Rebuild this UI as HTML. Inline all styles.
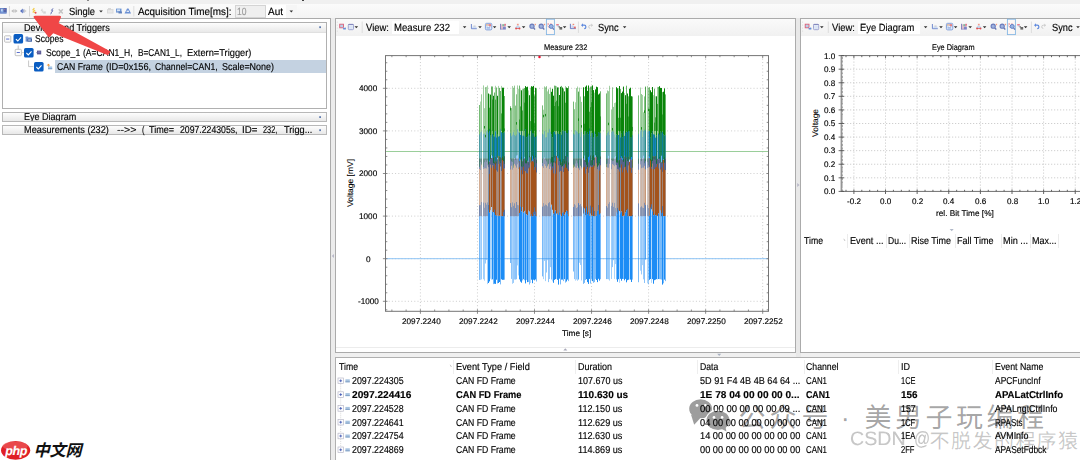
<!DOCTYPE html><html><head><meta charset="utf-8"><title>Scope</title><style>
html,body{margin:0;padding:0}
body{width:1080px;height:460px;overflow:hidden;position:relative;background:#f0f0f0;font-family:"Liberation Sans",sans-serif;text-rendering:geometricPrecision}
.a{position:absolute;box-sizing:border-box}
.t{position:absolute;white-space:nowrap;transform-origin:0 50%;display:inline-block;-webkit-text-stroke:0.15px}
.rot{position:absolute;white-space:nowrap;font-size:8.2px;line-height:10px;color:#000;transform-origin:0 0;-webkit-text-stroke:0.08px}
svg{position:absolute;left:0;top:0}
</style></head><body>
<div class="a" style="left:0;top:0;width:1080px;height:4px;background:#f0f0f0"></div>
<div class="a" style="left:0;top:3.6px;width:1080px;height:15px;background:linear-gradient(#fbfbfb,#f3f3f3)"></div>
<div class="a" style="left:302px;top:0;width:2px;height:1px;background:#444"></div>
<div class="a" style="left:87px;top:0;width:2px;height:1px;background:#888"></div>
<div class="a" style="left:234.5px;top:4.6px;width:31px;height:13.4px;background:#efefef;border:1px solid #d4d4d4"></div>
<div class="a" style="left:266px;top:4.6px;width:20px;height:13.4px;background:#fff"></div>
<div class="a" style="left:286px;top:4.6px;width:11px;height:13.4px;background:#f6f6f6"></div>
<div class="a" style="left:-1px;top:18px;width:332px;height:450px;background:#fff;border:1px solid #ababab"></div>
<div class="a" style="left:2px;top:21.8px;width:325.2px;height:87px;background:#fff;border:1px solid #b0b0b0"></div>
<div class="a" style="left:3px;top:22.8px;width:323.2px;height:10.4px;background:linear-gradient(#fdfdfd,#e9e9e9);border-bottom:1px solid #e0e0e0"></div>
<div class="a" style="left:55px;top:59.8px;width:271.4px;height:13.5px;background:#c4d2e1"></div>
<div class="a" style="left:2px;top:112.2px;width:325.2px;height:9.4px;background:linear-gradient(#fdfdfd,#e8e8e8);border:1px solid #b8b8b8"></div>
<div class="a" style="left:20px;top:105px;width:80px;height:16px;overflow:hidden"><span class="t" id="lp_eye" style="left:4.3px;top:6px;font-size:10px;line-height:13px;transform:scaleX(0.9029)">Eye Diagram</span></div>
<div class="a" style="left:2px;top:125.2px;width:325.2px;height:9.6px;background:linear-gradient(#fdfdfd,#e8e8e8);border:1px solid #b8b8b8"></div>
<div class="a" style="left:331px;top:18px;width:5px;height:442px;background:#ececec"></div>
<div class="a" style="left:796px;top:18px;width:5px;height:340px;background:#e8e8e8"></div>
<div class="a" style="left:335px;top:18px;width:461px;height:334.8px;background:#fff;border:1px solid #ababab"></div>
<div class="a" style="left:336px;top:19px;width:459px;height:16.6px;background:linear-gradient(#fafafa,#f1f1f1)"></div>
<div class="a" style="left:336px;top:346.6px;width:459px;height:1px;background:#ececec"></div>
<div class="a" style="left:392px;top:20.6px;width:67px;height:13.6px;background:#fff"></div>
<div class="a" style="left:800px;top:18px;width:290px;height:334.8px;background:#fff;border:1px solid #ababab"></div>
<div class="a" style="left:801px;top:19px;width:280px;height:16.6px;background:linear-gradient(#fafafa,#f1f1f1)"></div>
<div class="a" style="left:857.6px;top:20.6px;width:62px;height:13.6px;background:#fff"></div>
<div class="a" style="left:847.0px;top:233.5px;width:1px;height:14px;background:#ececec"></div>
<div class="a" style="left:886.4px;top:233.5px;width:1px;height:14px;background:#ececec"></div>
<div class="a" style="left:909.0px;top:233.5px;width:1px;height:14px;background:#ececec"></div>
<div class="a" style="left:954.9px;top:233.5px;width:1px;height:14px;background:#ececec"></div>
<div class="a" style="left:1001.2px;top:233.5px;width:1px;height:14px;background:#ececec"></div>
<div class="a" style="left:1029.5px;top:233.5px;width:1px;height:14px;background:#ececec"></div>
<div class="a" style="left:1058.2px;top:233.5px;width:1px;height:14px;background:#ececec"></div>
<div class="a" style="left:335px;top:356.8px;width:760px;height:110px;background:#fff;border:1px solid #b0b0b0"></div>
<div class="a" style="left:453.1px;top:360px;width:1px;height:14px;background:#eeeeee"></div>
<div class="a" style="left:575.2px;top:360px;width:1px;height:14px;background:#eeeeee"></div>
<div class="a" style="left:696.9px;top:360px;width:1px;height:14px;background:#eeeeee"></div>
<div class="a" style="left:803.5px;top:360px;width:1px;height:14px;background:#eeeeee"></div>
<div class="a" style="left:897.8px;top:360px;width:1px;height:14px;background:#eeeeee"></div>
<div class="a" style="left:992.1px;top:360px;width:1px;height:14px;background:#eeeeee"></div>
<span class="t" id="tb_single" style="left:69.00px;top:6px;font-size:10.4px;line-height:13.52px;font-weight:normal;color:#000;transform:scaleX(0.8999);">Single</span>
<span class="t" id="tb_acq" style="left:137.50px;top:6px;font-size:10.4px;line-height:13.52px;font-weight:normal;color:#000;transform:scaleX(0.9524);">Acquisition Time[ms]:</span>
<span class="t" id="tb_10" style="left:237.00px;top:6px;font-size:10.4px;line-height:13.52px;font-weight:normal;color:#9a9a9a;transform:scaleX(0.8216);">10</span>
<span class="t" id="tb_aut" style="left:268.00px;top:6px;font-size:10.4px;line-height:13.52px;font-weight:normal;color:#000;transform:scaleX(0.9610);">Aut</span>
<span class="t" id="lp_dev" style="left:24.30px;top:22px;font-size:10.0px;line-height:13.0px;font-weight:normal;color:#000;transform:scaleX(0.9123);">Devices and Triggers</span>
<span class="t" id="lp_scopes" style="left:35.10px;top:33px;font-size:10.0px;line-height:13.0px;font-weight:normal;color:#000;transform:scaleX(0.8543);">Scopes</span>
<span class="t" id="lp_s1_0" style="left:45.80px;top:47px;font-size:10.0px;line-height:13.0px;font-weight:normal;color:#000;transform:scaleX(0.8662);">Scope_1</span>
<span class="t" id="lp_s1_1" style="left:83.30px;top:47px;font-size:10.0px;line-height:13.0px;font-weight:normal;color:#000;transform:scaleX(0.8540);">(A=CAN1_H,</span>
<span class="t" id="lp_s1_2" style="left:137.80px;top:47px;font-size:10.0px;line-height:13.0px;font-weight:normal;color:#000;transform:scaleX(0.8287);">B=CAN1_L,</span>
<span class="t" id="lp_s1_3" style="left:186.70px;top:47px;font-size:10.0px;line-height:13.0px;font-weight:normal;color:#000;transform:scaleX(0.9283);">Extern=Trigger)</span>
<span class="t" id="lp_cf_0" style="left:56.50px;top:61px;font-size:10.0px;line-height:13.0px;font-weight:normal;color:#000;transform:scaleX(0.8656);">CAN Frame</span>
<span class="t" id="lp_cf_1" style="left:105.60px;top:61px;font-size:10.0px;line-height:13.0px;font-weight:normal;color:#000;transform:scaleX(0.9166);">(ID=0x156,</span>
<span class="t" id="lp_cf_2" style="left:155.10px;top:61px;font-size:10.0px;line-height:13.0px;font-weight:normal;color:#000;transform:scaleX(0.8643);">Channel=CAN1,</span>
<span class="t" id="lp_cf_3" style="left:221.80px;top:61px;font-size:10.0px;line-height:13.0px;font-weight:normal;color:#000;transform:scaleX(0.8951);">Scale=None)</span>
<span class="t" id="lp_m_0" style="left:24.30px;top:124px;font-size:10.0px;line-height:13.0px;font-weight:normal;color:#000;transform:scaleX(0.9202);">Measurements (232)</span>
<span class="t" id="lp_m_1" style="left:117.00px;top:124px;font-size:10.0px;line-height:13.0px;font-weight:normal;color:#000;transform:scaleX(1.0685);">--&gt;&gt;</span>
<span class="t" id="lp_m_2" style="left:141.50px;top:124px;font-size:10.0px;line-height:13.0px;font-weight:normal;color:#000;transform:scaleX(0.7477);">(</span>
<span class="t" id="lp_m_3" style="left:149.40px;top:124px;font-size:10.0px;line-height:13.0px;font-weight:normal;color:#000;transform:scaleX(0.9060);">Time=</span>
<span class="t" id="lp_m_4" style="left:179.90px;top:124px;font-size:10.0px;line-height:13.0px;font-weight:normal;color:#000;transform:scaleX(0.8689);">2097.224305s,</span>
<span class="t" id="lp_m_5" style="left:242.20px;top:124px;font-size:10.0px;line-height:13.0px;font-weight:normal;color:#000;transform:scaleX(0.9720);">ID=</span>
<span class="t" id="lp_m_6" style="left:262.90px;top:124px;font-size:10.0px;line-height:13.0px;font-weight:normal;color:#000;transform:scaleX(0.7345);">232,</span>
<span class="t" id="lp_m_7" style="left:283.60px;top:124px;font-size:10.0px;line-height:13.0px;font-weight:normal;color:#000;transform:scaleX(0.9203);">Trigg...</span>
<span class="t" id="ct_view" style="left:366.00px;top:22px;font-size:10.4px;line-height:13.52px;font-weight:normal;color:#000;transform:scaleX(0.9115);">View:</span>
<span class="t" id="ct_meas" style="left:394.00px;top:22px;font-size:10.4px;line-height:13.52px;font-weight:normal;color:#000;transform:scaleX(0.9232);">Measure 232</span>
<span class="t" id="ct_sync" style="left:598.30px;top:22px;font-size:10.4px;line-height:13.52px;font-weight:normal;color:#000;transform:scaleX(0.8914);">Sync</span>
<span class="t" id="rt_view" style="left:831.70px;top:22px;font-size:10.4px;line-height:13.52px;font-weight:normal;color:#000;transform:scaleX(0.9115);">View:</span>
<span class="t" id="rt_eye" style="left:860.00px;top:22px;font-size:10.4px;line-height:13.52px;font-weight:normal;color:#000;transform:scaleX(0.9024);">Eye Diagram</span>
<span class="t" id="rt_sync" style="left:1051.70px;top:22px;font-size:10.4px;line-height:13.52px;font-weight:normal;color:#000;transform:scaleX(0.8871);">Sync</span>
<span class="t" id="cc_title" style="left:544.40px;top:43px;font-size:8.2px;line-height:10.66px;font-weight:normal;color:#000;transform:scaleX(0.9059);">Measure 232</span>
<span class="t" id="cc_y4000" style="left:359.40px;top:84px;font-size:8.2px;line-height:10.66px;font-weight:normal;color:#000;transform:scaleX(0.9990);">4000</span>
<span class="t" id="cc_y3000" style="left:359.40px;top:127px;font-size:8.2px;line-height:10.66px;font-weight:normal;color:#000;transform:scaleX(0.9990);">3000</span>
<span class="t" id="cc_y2000" style="left:359.40px;top:169px;font-size:8.2px;line-height:10.66px;font-weight:normal;color:#000;transform:scaleX(0.9990);">2000</span>
<span class="t" id="cc_y1000" style="left:359.40px;top:212px;font-size:8.2px;line-height:10.66px;font-weight:normal;color:#000;transform:scaleX(0.9990);">1000</span>
<span class="t" id="cc_y0" style="left:366.20px;top:255px;font-size:8.2px;line-height:10.66px;font-weight:normal;color:#000;transform:scaleX(1.0082);">0</span>
<span class="t" id="cc_y-1000" style="left:358.10px;top:297px;font-size:8.2px;line-height:10.66px;font-weight:normal;color:#000;transform:scaleX(0.9927);">-1000</span>
<span class="t" id="cc_x0" style="left:401.60px;top:317px;font-size:8.2px;line-height:10.66px;font-weight:normal;color:#000;transform:scaleX(0.9999);">2097.2240</span>
<span class="t" id="cc_x1" style="left:458.65px;top:317px;font-size:8.2px;line-height:10.66px;font-weight:normal;color:#000;transform:scaleX(0.9999);">2097.2242</span>
<span class="t" id="cc_x2" style="left:515.70px;top:317px;font-size:8.2px;line-height:10.66px;font-weight:normal;color:#000;transform:scaleX(0.9999);">2097.2244</span>
<span class="t" id="cc_x3" style="left:572.75px;top:317px;font-size:8.2px;line-height:10.66px;font-weight:normal;color:#000;transform:scaleX(0.9999);">2097.2246</span>
<span class="t" id="cc_x4" style="left:629.80px;top:317px;font-size:8.2px;line-height:10.66px;font-weight:normal;color:#000;transform:scaleX(0.9999);">2097.2248</span>
<span class="t" id="cc_x5" style="left:686.85px;top:317px;font-size:8.2px;line-height:10.66px;font-weight:normal;color:#000;transform:scaleX(0.9999);">2097.2250</span>
<span class="t" id="cc_x6" style="left:743.90px;top:317px;font-size:8.2px;line-height:10.66px;font-weight:normal;color:#000;transform:scaleX(0.9999);">2097.2252</span>
<span class="t" id="cc_xt" style="left:562.30px;top:329px;font-size:8.2px;line-height:10.66px;font-weight:normal;color:#000;transform:scaleX(1.0134);">Time [s]</span>
<span class="t" id="rc_title" style="left:931.50px;top:43px;font-size:8.2px;line-height:10.66px;font-weight:normal;color:#000;transform:scaleX(0.9001);">Eye Diagram</span>
<span class="t" id="rc_y0" style="left:823.70px;top:52px;font-size:8.2px;line-height:10.66px;font-weight:normal;color:#000;transform:scaleX(0.9920);">1.0</span>
<span class="t" id="rc_y1" style="left:823.70px;top:65px;font-size:8.2px;line-height:10.66px;font-weight:normal;color:#000;transform:scaleX(0.9920);">0.9</span>
<span class="t" id="rc_y2" style="left:823.70px;top:79px;font-size:8.2px;line-height:10.66px;font-weight:normal;color:#000;transform:scaleX(0.9920);">0.8</span>
<span class="t" id="rc_y3" style="left:823.70px;top:92px;font-size:8.2px;line-height:10.66px;font-weight:normal;color:#000;transform:scaleX(0.9920);">0.7</span>
<span class="t" id="rc_y4" style="left:823.70px;top:106px;font-size:8.2px;line-height:10.66px;font-weight:normal;color:#000;transform:scaleX(0.9920);">0.6</span>
<span class="t" id="rc_y5" style="left:823.70px;top:119px;font-size:8.2px;line-height:10.66px;font-weight:normal;color:#000;transform:scaleX(0.9920);">0.5</span>
<span class="t" id="rc_y6" style="left:823.70px;top:133px;font-size:8.2px;line-height:10.66px;font-weight:normal;color:#000;transform:scaleX(0.9920);">0.4</span>
<span class="t" id="rc_y7" style="left:823.70px;top:146px;font-size:8.2px;line-height:10.66px;font-weight:normal;color:#000;transform:scaleX(0.9920);">0.3</span>
<span class="t" id="rc_y8" style="left:823.70px;top:160px;font-size:8.2px;line-height:10.66px;font-weight:normal;color:#000;transform:scaleX(0.9920);">0.2</span>
<span class="t" id="rc_y9" style="left:823.70px;top:174px;font-size:8.2px;line-height:10.66px;font-weight:normal;color:#000;transform:scaleX(0.9920);">0.1</span>
<span class="t" id="rc_y10" style="left:823.70px;top:187px;font-size:8.2px;line-height:10.66px;font-weight:normal;color:#000;transform:scaleX(0.9920);">0.0</span>
<span class="t" id="rc_x0" style="left:847.30px;top:197px;font-size:8.2px;line-height:10.66px;font-weight:normal;color:#000;transform:scaleX(0.9922);">-0.2</span>
<span class="t" id="rc_x1" style="left:880.25px;top:197px;font-size:8.2px;line-height:10.66px;font-weight:normal;color:#000;transform:scaleX(0.9920);">0.0</span>
<span class="t" id="rc_x2" style="left:911.85px;top:197px;font-size:8.2px;line-height:10.66px;font-weight:normal;color:#000;transform:scaleX(0.9920);">0.2</span>
<span class="t" id="rc_x3" style="left:943.45px;top:197px;font-size:8.2px;line-height:10.66px;font-weight:normal;color:#000;transform:scaleX(0.9920);">0.4</span>
<span class="t" id="rc_x4" style="left:975.05px;top:197px;font-size:8.2px;line-height:10.66px;font-weight:normal;color:#000;transform:scaleX(0.9920);">0.6</span>
<span class="t" id="rc_x5" style="left:1006.65px;top:197px;font-size:8.2px;line-height:10.66px;font-weight:normal;color:#000;transform:scaleX(0.9920);">0.8</span>
<span class="t" id="rc_x6" style="left:1038.25px;top:197px;font-size:8.2px;line-height:10.66px;font-weight:normal;color:#000;transform:scaleX(0.9920);">1.0</span>
<span class="t" id="rc_x7" style="left:1069.85px;top:197px;font-size:8.2px;line-height:10.66px;font-weight:normal;color:#000;transform:scaleX(0.9920);">1.2</span>
<span class="t" id="rc_xt" style="left:936.20px;top:209px;font-size:8.2px;line-height:10.66px;font-weight:normal;color:#000;transform:scaleX(1.0082);">rel. Bit Time [%]</span>
<span class="t" id="rh_time" style="left:804.00px;top:235px;font-size:10.0px;line-height:13.0px;font-weight:normal;color:#000;transform:scaleX(0.8692);">Time</span>
<span class="t" id="rh_event" style="left:849.50px;top:235px;font-size:10.0px;line-height:13.0px;font-weight:normal;color:#000;transform:scaleX(0.9131);">Event ...</span>
<span class="t" id="rh_du" style="left:888.20px;top:235px;font-size:10.0px;line-height:13.0px;font-weight:normal;color:#000;transform:scaleX(0.8521);">Du...</span>
<span class="t" id="rh_rise" style="left:911.00px;top:235px;font-size:10.0px;line-height:13.0px;font-weight:normal;color:#000;transform:scaleX(0.8998);">Rise Time</span>
<span class="t" id="rh_fall" style="left:957.00px;top:235px;font-size:10.0px;line-height:13.0px;font-weight:normal;color:#000;transform:scaleX(0.8998);">Fall Time</span>
<span class="t" id="rh_min" style="left:1003.20px;top:235px;font-size:10.0px;line-height:13.0px;font-weight:normal;color:#000;transform:scaleX(0.9180);">Min ...</span>
<span class="t" id="rh_max" style="left:1031.70px;top:235px;font-size:10.0px;line-height:13.0px;font-weight:normal;color:#000;transform:scaleX(0.8996);">Max...</span>
<span class="t" id="bh_time" style="left:339.30px;top:361px;font-size:10.0px;line-height:13.0px;font-weight:normal;color:#000;transform:scaleX(0.8692);">Time</span>
<span class="t" id="bh_event" style="left:456.20px;top:361px;font-size:10.0px;line-height:13.0px;font-weight:normal;color:#000;transform:scaleX(0.9241);">Event Type / Field</span>
<span class="t" id="bh_dur" style="left:577.80px;top:361px;font-size:10.0px;line-height:13.0px;font-weight:normal;color:#000;transform:scaleX(0.8992);">Duration</span>
<span class="t" id="bh_data" style="left:699.70px;top:361px;font-size:10.0px;line-height:13.0px;font-weight:normal;color:#000;transform:scaleX(0.8663);">Data</span>
<span class="t" id="bh_chan" style="left:806.00px;top:361px;font-size:10.0px;line-height:13.0px;font-weight:normal;color:#000;transform:scaleX(0.8721);">Channel</span>
<span class="t" id="bh_id" style="left:900.50px;top:361px;font-size:10.0px;line-height:13.0px;font-weight:normal;color:#000;transform:scaleX(0.9000);">ID</span>
<span class="t" id="bh_name" style="left:994.50px;top:361px;font-size:10.0px;line-height:13.0px;font-weight:normal;color:#000;transform:scaleX(0.8813);">Event Name</span>
<span class="t" id="r0_t" style="left:352.20px;top:375px;font-size:10.0px;line-height:13.0px;font-weight:normal;color:#000;transform:scaleX(0.8835);">2097.224305</span>
<span class="t" id="r0_e" style="left:456.20px;top:375px;font-size:10.0px;line-height:13.0px;font-weight:normal;color:#000;transform:scaleX(0.8664);">CAN FD Frame</span>
<span class="t" id="r0_d" style="left:577.80px;top:375px;font-size:10.0px;line-height:13.0px;font-weight:normal;color:#000;transform:scaleX(0.8970);">107.670 us</span>
<span class="t" id="r0_x" style="left:699.70px;top:375px;font-size:10.0px;line-height:13.0px;font-weight:normal;color:#000;transform:scaleX(0.9112);">5D 91 F4 4B 4B 64 64 ...</span>
<span class="t" id="r0_c" style="left:806.00px;top:375px;font-size:10.0px;line-height:13.0px;font-weight:normal;color:#000;transform:scaleX(0.7869);">CAN1</span>
<span class="t" id="r0_i" style="left:900.50px;top:375px;font-size:10.0px;line-height:13.0px;font-weight:normal;color:#000;transform:scaleX(0.7454);">1CE</span>
<span class="t" id="r0_n" style="left:994.50px;top:375px;font-size:10.0px;line-height:13.0px;font-weight:normal;color:#000;transform:scaleX(0.8438);">APCFuncInf</span>
<span class="t" id="r1_t" style="left:352.20px;top:389px;font-size:10.0px;line-height:13.0px;font-weight:bold;color:#000;transform:scaleX(1.0170);">2097.224416</span>
<span class="t" id="r1_e" style="left:456.20px;top:389px;font-size:10.0px;line-height:13.0px;font-weight:bold;color:#000;transform:scaleX(0.9280);">CAN FD Frame</span>
<span class="t" id="r1_d" style="left:577.80px;top:389px;font-size:10.0px;line-height:13.0px;font-weight:bold;color:#000;transform:scaleX(1.0031);">110.630 us</span>
<span class="t" id="r1_x" style="left:699.70px;top:389px;font-size:10.0px;line-height:13.0px;font-weight:bold;color:#000;transform:scaleX(1.0110);">1E 78 04 00 00 00 0...</span>
<span class="t" id="r1_c" style="left:806.00px;top:389px;font-size:10.0px;line-height:13.0px;font-weight:bold;color:#000;transform:scaleX(0.8812);">CAN1</span>
<span class="t" id="r1_i" style="left:900.50px;top:389px;font-size:10.0px;line-height:13.0px;font-weight:bold;color:#000;transform:scaleX(0.9888);">156</span>
<span class="t" id="r1_n" style="left:994.50px;top:389px;font-size:10.0px;line-height:13.0px;font-weight:bold;color:#000;transform:scaleX(0.9588);">APALatCtrlInfo</span>
<span class="t" id="r2_t" style="left:352.20px;top:403px;font-size:10.0px;line-height:13.0px;font-weight:normal;color:#000;transform:scaleX(0.8835);">2097.224528</span>
<span class="t" id="r2_e" style="left:456.20px;top:403px;font-size:10.0px;line-height:13.0px;font-weight:normal;color:#000;transform:scaleX(0.8664);">CAN FD Frame</span>
<span class="t" id="r2_d" style="left:577.80px;top:403px;font-size:10.0px;line-height:13.0px;font-weight:normal;color:#000;transform:scaleX(0.9108);">112.150 us</span>
<span class="t" id="r2_x" style="left:699.70px;top:403px;font-size:10.0px;line-height:13.0px;font-weight:normal;color:#000;transform:scaleX(0.9493);">00 00 00 00 00 00 09 ...</span>
<span class="t" id="r2_c" style="left:806.00px;top:403px;font-size:10.0px;line-height:13.0px;font-weight:normal;color:#000;transform:scaleX(0.7869);">CAN1</span>
<span class="t" id="r2_i" style="left:900.50px;top:403px;font-size:10.0px;line-height:13.0px;font-weight:normal;color:#000;transform:scaleX(0.8869);">157</span>
<span class="t" id="r2_n" style="left:994.50px;top:403px;font-size:10.0px;line-height:13.0px;font-weight:normal;color:#000;transform:scaleX(0.8807);">APALngtCtrlInfo</span>
<span class="t" id="r3_t" style="left:352.20px;top:417px;font-size:10.0px;line-height:13.0px;font-weight:normal;color:#000;transform:scaleX(0.8835);">2097.224641</span>
<span class="t" id="r3_e" style="left:456.20px;top:417px;font-size:10.0px;line-height:13.0px;font-weight:normal;color:#000;transform:scaleX(0.8664);">CAN FD Frame</span>
<span class="t" id="r3_d" style="left:577.80px;top:417px;font-size:10.0px;line-height:13.0px;font-weight:normal;color:#000;transform:scaleX(0.9108);">112.629 us</span>
<span class="t" id="r3_x" style="left:699.70px;top:417px;font-size:10.0px;line-height:13.0px;font-weight:normal;color:#000;transform:scaleX(0.9250);">04 00 00 00 00 00 00 00</span>
<span class="t" id="r3_c" style="left:806.00px;top:417px;font-size:10.0px;line-height:13.0px;font-weight:normal;color:#000;transform:scaleX(0.7869);">CAN1</span>
<span class="t" id="r3_i" style="left:900.50px;top:417px;font-size:10.0px;line-height:13.0px;font-weight:normal;color:#000;transform:scaleX(0.7511);">1CF</span>
<span class="t" id="r3_n" style="left:994.50px;top:417px;font-size:10.0px;line-height:13.0px;font-weight:normal;color:#000;transform:scaleX(0.8022);">RPASts</span>
<span class="t" id="r4_t" style="left:352.20px;top:430px;font-size:10.0px;line-height:13.0px;font-weight:normal;color:#000;transform:scaleX(0.8835);">2097.224754</span>
<span class="t" id="r4_e" style="left:456.20px;top:430px;font-size:10.0px;line-height:13.0px;font-weight:normal;color:#000;transform:scaleX(0.8664);">CAN FD Frame</span>
<span class="t" id="r4_d" style="left:577.80px;top:430px;font-size:10.0px;line-height:13.0px;font-weight:normal;color:#000;transform:scaleX(0.9108);">112.630 us</span>
<span class="t" id="r4_x" style="left:699.70px;top:430px;font-size:10.0px;line-height:13.0px;font-weight:normal;color:#000;transform:scaleX(0.9250);">14 00 00 00 00 00 00 00</span>
<span class="t" id="r4_c" style="left:806.00px;top:430px;font-size:10.0px;line-height:13.0px;font-weight:normal;color:#000;transform:scaleX(0.7869);">CAN1</span>
<span class="t" id="r4_i" style="left:900.50px;top:430px;font-size:10.0px;line-height:13.0px;font-weight:normal;color:#000;transform:scaleX(0.7511);">1EA</span>
<span class="t" id="r4_n" style="left:994.50px;top:430px;font-size:10.0px;line-height:13.0px;font-weight:normal;color:#000;transform:scaleX(0.8907);">AVMInfo</span>
<span class="t" id="r5_t" style="left:352.20px;top:444px;font-size:10.0px;line-height:13.0px;font-weight:normal;color:#000;transform:scaleX(0.8835);">2097.224869</span>
<span class="t" id="r5_e" style="left:456.20px;top:444px;font-size:10.0px;line-height:13.0px;font-weight:normal;color:#000;transform:scaleX(0.8664);">CAN FD Frame</span>
<span class="t" id="r5_d" style="left:577.80px;top:444px;font-size:10.0px;line-height:13.0px;font-weight:normal;color:#000;transform:scaleX(0.9108);">114.869 us</span>
<span class="t" id="r5_x" style="left:699.70px;top:444px;font-size:10.0px;line-height:13.0px;font-weight:normal;color:#000;transform:scaleX(0.9250);">00 00 00 00 00 00 00 00</span>
<span class="t" id="r5_c" style="left:806.00px;top:444px;font-size:10.0px;line-height:13.0px;font-weight:normal;color:#000;transform:scaleX(0.7869);">CAN1</span>
<span class="t" id="r5_i" style="left:900.50px;top:444px;font-size:10.0px;line-height:13.0px;font-weight:normal;color:#000;transform:scaleX(0.7592);">2FF</span>
<span class="t" id="r5_n" style="left:994.50px;top:444px;font-size:10.0px;line-height:13.0px;font-weight:normal;color:#000;transform:scaleX(0.8372);">APASetFdbck</span>
<span class="rot" id="rot1" style="left:346.2px;top:207.4px;transform:rotate(-90deg) scaleX(1.0340)">Voltage [mV]</span>
<span class="rot" id="rot2" style="left:811px;top:137.4px;transform:rotate(-90deg) scaleX(1.0246)">Voltage</span>
<svg width="1080" height="460" viewBox="0 0 1080 460">
<g opacity="0.8">
<rect x="0.00" y="8.00" width="6.60" height="5.60" fill="#3a5cb4" fill-opacity="0.95"/>
<rect x="0.80" y="8.80" width="2.40" height="3.40" fill="#78a8e6" fill-opacity="0.9"/>
<rect x="3.80" y="8.20" width="2.80" height="4.20" fill="#2a3f92" fill-opacity="0.9"/>
<rect x="1.20" y="9.40" width="1.20" height="1.40" fill="#e8f0fc" fill-opacity="0.9"/>
<rect x="4.20" y="9.00" width="1.00" height="1.00" fill="#c05070" fill-opacity="0.8"/>
<rect x="0.40" y="12.40" width="5.80" height="1.00" fill="#5a86d4" fill-opacity="0.9"/>
<path d="M9.40 6.00L9.40 16.50" stroke="#d0d0d0" stroke-width="1" fill="none" />
<path d="M11.2 11l2.3-1.7v3.4zM17.6 11l-2.3-1.7v3.4z" fill="#b0b0b0"/>
<rect x="13.30" y="9.70" width="2.20" height="2.60" fill="#b4b4b4"/>
<rect x="13.80" y="10.30" width="1.20" height="1.40" fill="#d8d8d8"/>
<path d="M20 11l2.9-2.5v5z" fill="#3050b4"/><path d="M26.6 11l-2.5-1.9v3.8z" fill="#c4c4c4"/>
<rect x="22.70" y="9.40" width="1.50" height="3.20" fill="#8a9cc8"/>
<path d="M29.50 6.00L29.50 16.50" stroke="#d0d0d0" stroke-width="1" fill="none" />
<path d="M34.3 8l-1.3 1.8 1.6 0.6-1.4 1.6 1.8 0.5" stroke="#f0c020" stroke-width="1.2" fill="none"/><circle cx="35.6" cy="12.7" r="0.95" fill="#e02828"/>
<path d="M42.4 8.8l-1 1.6 1.4 0.6-0.8 1.4" stroke="#cfcfcf" stroke-width="1.1" fill="none"/>
<rect x="43.20" y="11.40" width="2.60" height="2.20" fill="#cacaca"/>
<path d="M53 8.4l-1.5 1.9 1.3 0.5-1.6 1.7 0.6 0.3-1.4 1.2" stroke="#2f3f9c" stroke-width="1" fill="none"/>
<path d="M58.8 9.2l4 4.2M62.8 9.2l-4 4.2" stroke="#b8b8b8" stroke-width="1.5"/>
<path d="M99.2 10.5h3.6l-1.8 2z" fill="#000"/>
<rect x="107.00" y="9.00" width="6.50" height="4.50" fill="#d4d4d4"/>
<rect x="108.00" y="8.20" width="3.00" height="1.20" fill="#c8c8c8"/>
<rect x="108.00" y="10.20" width="4.50" height="2.40" fill="#e6e6e6"/>
<rect x="116.00" y="8.60" width="5.50" height="4.00" fill="#3f74c8" fill-opacity="0.9"/>
<rect x="117.00" y="9.40" width="3.00" height="1.80" fill="#cfe0f5"/>
<rect x="118.50" y="11.50" width="3.50" height="2.00" fill="#2a55a5" fill-opacity="0.85"/>
<path d="M124.5 13.6l2.6-5.2 1.4 0 2.6 5.2z" fill="#4a78cc"/>
<rect x="126.60" y="10.60" width="2.40" height="1.40" fill="#dfe8f8"/>
<path d="M133.80 6.00L133.80 16.50" stroke="#d8d8d8" stroke-width="1" fill="none" />
<path d="M289.5 10.5h3.6l-1.8 2z" fill="#000"/>
<path d="M337.3 21.6V33" stroke="#d4d4d4" stroke-width="1" stroke-dasharray="1 2"/>
<rect x="339.7" y="24.2" width="3.8" height="3.6" fill="#a8c8e8" stroke="#d83a58" stroke-width="0.9"/>
<rect x="343.10" y="27.50" width="2.80" height="2.10" fill="#3a70d0" fill-opacity="0.95" rx="0.6"/>
<rect x="343.70" y="27.00" width="1.20" height="1.00" fill="#dfe8f8" fill-opacity="0.8"/>
<rect x="348.3" y="24.3" width="5.2" height="5.4" rx="0.9" fill="#e4ebf8" stroke="#8088c4" stroke-width="0.9"/>
<rect x="348.30" y="24.10" width="5.20" height="1.00" fill="#6468ac" fill-opacity="0.9" rx="0.4"/>
<rect x="349.20" y="25.70" width="3.40" height="3.20" fill="#d3e0f4" fill-opacity="0.9"/>
<path d="M354.5 26.3h3.6l-1.8 2z" fill="#000"/>
<path d="M362.20 21.50L362.20 33.00" stroke="#d8d8d8" stroke-width="1" fill="none" />
<path d="M462.8 26.3h3.6l-1.8 2z" fill="#000"/>
<path d="M471.4 24.0v4.7h5.4" stroke="#3f62c0" stroke-width="0.9" fill="none"/>
<rect x="472.30" y="26.60" width="4.20" height="1.50" fill="#c4d8f4"/>
<rect x="473.40" y="25.60" width="2.20" height="1.00" fill="#a8a8b0" fill-opacity="0.8"/>
<path d="M478.2 26.3h3.6l-1.8 2z" fill="#000"/>
<rect x="485.4" y="23.3" width="6.4" height="6.6" rx="1.2" fill="#dbe6f8" stroke="#5a80d0" stroke-width="0.9"/>
<rect x="486.00" y="24.10" width="1.80" height="1.60" fill="#d0a070" fill-opacity="0.9"/>
<rect x="488.40" y="24.10" width="2.60" height="2.20" fill="#e05050" fill-opacity="0.85"/>
<rect x="486.60" y="26.50" width="3.40" height="2.20" fill="#7aa0e0" fill-opacity="0.8"/>
<rect x="487.60" y="25.90" width="1.40" height="1.20" fill="#fff" fill-opacity="0.8"/>
<path d="M492.8 26.3h3.6l-1.8 2z" fill="#000"/>
<rect x="500.20" y="23.80" width="0.90" height="5.60" fill="#4a4aa0"/>
<rect x="501.10" y="24.40" width="4.60" height="4.80" fill="#d4a6b8" fill-opacity="0.9"/>
<rect x="502.40" y="24.20" width="2.00" height="1.80" fill="#5cb088"/>
<rect x="504.40" y="23.80" width="1.40" height="1.80" fill="#e04060"/>
<rect x="503.00" y="26.80" width="2.80" height="2.40" fill="#4a62c0" fill-opacity="0.85"/>
<rect x="500.20" y="28.80" width="5.60" height="0.70" fill="#5a5ab0" fill-opacity="0.8"/>
<path d="M507.4 26.3h3.6l-1.8 2z" fill="#000"/>
<rect x="516.90" y="23.80" width="1.80" height="1.70" fill="#f08070"/>
<path d="M516.6 25.8h2.4l1.6 2.2h-5.6z" fill="#b4d2f2"/>
<rect x="515.80" y="28.10" width="4.00" height="0.80" fill="#d83030"/>
<circle cx="516.1" cy="28.5" r="0.95" fill="#d82828"/><circle cx="519.5" cy="28.5" r="0.95" fill="#d82828"/>
<path d="M521.8 26.3h3.6l-1.8 2z" fill="#000"/>
<circle cx="532.0" cy="26.2" r="2.1" fill="#8aa4dc" stroke="#4a5fae" stroke-width="1.1"/>
<path d="M533.6 28.0l1.5 1.5" stroke="#3f55a0" stroke-width="1.2"/>
<rect x="534.70" y="23.80" width="1.20" height="1.40" fill="#f08060"/>
<circle cx="541.2" cy="26.2" r="2.1" fill="#8aa4dc" stroke="#4a5fae" stroke-width="1.1"/>
<path d="M542.8 28.0l1.5 1.5" stroke="#3f55a0" stroke-width="1.2"/>
<rect x="543.90" y="23.80" width="1.20" height="1.40" fill="#f08060"/>
<rect x="546.4" y="19.2" width="8" height="15.4" fill="#fdf8f6" stroke="#6aa8e0" stroke-width="0.9"/>
<path d="M547.4 24.0l1.6 0M547.6 26.0l1.2 1.2M550.6 23.6l1.2 0.8" stroke="#e04858" stroke-width="0.9"/>
<circle cx="551.2" cy="26.4" r="2" fill="#7fa6e0" stroke="#3f62b8" stroke-width="1"/>
<path d="M552.6 28.0l1.4 1.6" stroke="#3f55a0" stroke-width="1.2"/>
<rect x="556.20" y="24.00" width="2.60" height="1.50" fill="#e86070"/>
<rect x="556.80" y="25.50" width="2.00" height="0.90" fill="#7090d0" fill-opacity="0.8"/>
<rect x="558.40" y="26.00" width="1.60" height="1.60" fill="#777"/>
<rect x="559.40" y="27.00" width="2.80" height="2.60" fill="#333" fill-opacity="0.9"/>
<path d="M562.8 26.3h3.6l-1.8 2z" fill="#000"/>
<path d="M570.4 23.8v4.8h5.4" stroke="#3a50b0" stroke-width="0.9" fill="none"/>
<rect x="572.60" y="23.80" width="1.60" height="1.20" fill="#f07050"/>
<rect x="571.40" y="25.40" width="2.40" height="2.80" fill="#b8c8f0" fill-opacity="0.9"/>
<rect x="573.80" y="26.60" width="2.00" height="1.80" fill="#e04848"/>
<path d="M578.40 21.50L578.40 33.00" stroke="#d8d8d8" stroke-width="1" fill="none" />
<path d="M582.2 25.2h2a1.7 1.7 0 0 1 0 3.4" stroke="#3a6fd8" stroke-width="1.2" fill="none"/><path d="M581.0 25.2l2-1.9v3.8z" fill="#3a6fd8"/>
<path d="M591.9 25.2h-1.6a1.6 1.6 0 0 0 0 3.2" stroke="#c0c0c0" stroke-width="1" fill="none"/><path d="M593.1 25.2l-1.8-1.7v3.4z" fill="#c0c0c0"/>
<path d="M622.8 26.3h3.6l-1.8 2z" fill="#000"/>
<path d="M802.6 21.6V33" stroke="#d4d4d4" stroke-width="1" stroke-dasharray="1 2"/>
<rect x="805.2" y="24.2" width="3.8" height="3.6" fill="#a8c8e8" stroke="#d83a58" stroke-width="0.9"/>
<rect x="808.60" y="27.50" width="2.80" height="2.10" fill="#3a70d0" fill-opacity="0.95" rx="0.6"/>
<rect x="809.20" y="27.00" width="1.20" height="1.00" fill="#dfe8f8" fill-opacity="0.8"/>
<rect x="813.5" y="24.3" width="5.2" height="5.4" rx="0.9" fill="#e4ebf8" stroke="#8088c4" stroke-width="0.9"/>
<rect x="813.50" y="24.10" width="5.20" height="1.00" fill="#6468ac" fill-opacity="0.9" rx="0.4"/>
<rect x="814.40" y="25.70" width="3.40" height="3.20" fill="#d3e0f4" fill-opacity="0.9"/>
<path d="M820.0 26.3h3.6l-1.8 2z" fill="#000"/>
<path d="M828.30 21.50L828.30 33.00" stroke="#d8d8d8" stroke-width="1" fill="none" />
<path d="M923.8 26.3h3.6l-1.8 2z" fill="#000"/>
<path d="M932.4 24.0v4.7h5.4" stroke="#3f62c0" stroke-width="0.9" fill="none"/>
<rect x="933.30" y="26.60" width="4.20" height="1.50" fill="#c4d8f4"/>
<rect x="934.40" y="25.60" width="2.20" height="1.00" fill="#a8a8b0" fill-opacity="0.8"/>
<path d="M939.2 26.3h3.6l-1.8 2z" fill="#000"/>
<rect x="946.4" y="23.3" width="6.4" height="6.6" rx="1.2" fill="#dbe6f8" stroke="#5a80d0" stroke-width="0.9"/>
<rect x="947.00" y="24.10" width="1.80" height="1.60" fill="#d0a070" fill-opacity="0.9"/>
<rect x="949.40" y="24.10" width="2.60" height="2.20" fill="#e05050" fill-opacity="0.85"/>
<rect x="947.60" y="26.50" width="3.40" height="2.20" fill="#7aa0e0" fill-opacity="0.8"/>
<rect x="948.60" y="25.90" width="1.40" height="1.20" fill="#fff" fill-opacity="0.8"/>
<path d="M953.8 26.3h3.6l-1.8 2z" fill="#000"/>
<rect x="961.20" y="23.80" width="0.90" height="5.60" fill="#4a4aa0"/>
<rect x="962.10" y="24.40" width="4.60" height="4.80" fill="#d4a6b8" fill-opacity="0.9"/>
<rect x="963.40" y="24.20" width="2.00" height="1.80" fill="#5cb088"/>
<rect x="965.40" y="23.80" width="1.40" height="1.80" fill="#e04060"/>
<rect x="964.00" y="26.80" width="2.80" height="2.40" fill="#4a62c0" fill-opacity="0.85"/>
<rect x="961.20" y="28.80" width="5.60" height="0.70" fill="#5a5ab0" fill-opacity="0.8"/>
<path d="M968.4 26.3h3.6l-1.8 2z" fill="#000"/>
<rect x="977.90" y="23.80" width="1.80" height="1.70" fill="#f08070"/>
<path d="M977.6 25.8h2.4l1.6 2.2h-5.6z" fill="#b4d2f2"/>
<rect x="976.80" y="28.10" width="4.00" height="0.80" fill="#d83030"/>
<circle cx="977.1" cy="28.5" r="0.95" fill="#d82828"/><circle cx="980.5" cy="28.5" r="0.95" fill="#d82828"/>
<path d="M982.8 26.3h3.6l-1.8 2z" fill="#000"/>
<circle cx="993.2" cy="26.2" r="2.1" fill="#8aa4dc" stroke="#4a5fae" stroke-width="1.1"/>
<path d="M994.8 28.0l1.5 1.5" stroke="#3f55a0" stroke-width="1.2"/>
<rect x="995.90" y="23.80" width="1.20" height="1.40" fill="#f08060"/>
<circle cx="1002.2" cy="26.2" r="2.1" fill="#8aa4dc" stroke="#4a5fae" stroke-width="1.1"/>
<path d="M1003.8 28.0l1.5 1.5" stroke="#3f55a0" stroke-width="1.2"/>
<rect x="1004.90" y="23.80" width="1.20" height="1.40" fill="#f08060"/>
<rect x="1007.4" y="19.2" width="8" height="15.4" fill="#fdf8f6" stroke="#6aa8e0" stroke-width="0.9"/>
<path d="M1008.4 24.0l1.6 0M1008.6 26.0l1.2 1.2M1011.6 23.6l1.2 0.8" stroke="#e04858" stroke-width="0.9"/>
<circle cx="1012.2" cy="26.4" r="2" fill="#7fa6e0" stroke="#3f62b8" stroke-width="1"/>
<path d="M1013.6 28.0l1.4 1.6" stroke="#3f55a0" stroke-width="1.2"/>
<rect x="1017.20" y="24.00" width="2.60" height="1.50" fill="#e86070"/>
<rect x="1017.80" y="25.50" width="2.00" height="0.90" fill="#7090d0" fill-opacity="0.8"/>
<rect x="1019.40" y="26.00" width="1.60" height="1.60" fill="#777"/>
<rect x="1020.40" y="27.00" width="2.80" height="2.60" fill="#333" fill-opacity="0.9"/>
<path d="M1023.8 26.3h3.6l-1.8 2z" fill="#000"/>
<path d="M1031.40 21.50L1031.40 33.00" stroke="#d8d8d8" stroke-width="1" fill="none" />
<path d="M1035.2 25.2h2a1.7 1.7 0 0 1 0 3.4" stroke="#3a6fd8" stroke-width="1.2" fill="none"/><path d="M1034.0 25.2l2-1.9v3.8z" fill="#3a6fd8"/>
<path d="M1044.9 25.2h-1.6a1.6 1.6 0 0 0 0 3.2" stroke="#c0c0c0" stroke-width="1" fill="none"/><path d="M1046.1 25.2l-1.8-1.7v3.4z" fill="#c0c0c0"/>
<path d="M1076.2 26.3h3.6l-1.8 2z" fill="#000"/>
</g>
<rect x="4.6" y="35.8" width="6.2" height="6.4" fill="#fcfcfc" stroke="#b4b4b4" stroke-width="0.8" rx="0.8"/>
<rect x="6.10" y="38.60" width="3.20" height="0.90" fill="#4a60c8"/>
<rect x="13.50" y="34.10" width="9.60" height="9.50" fill="#0a5dc2" rx="1.6"/>
<path d="M15.9 39.1l1.9 1.9 3.2-3.6" stroke="#fff" stroke-width="1.1" fill="none"/>
<rect x="25.60" y="36.60" width="2.60" height="1.20" fill="#5f86c8"/>
<rect x="25.60" y="37.40" width="6.20" height="4.20" fill="#6d93d2"/>
<rect x="27.40" y="38.80" width="4.60" height="2.80" fill="#3d5a98" fill-opacity="0.85"/>
<rect x="28.20" y="39.40" width="2.60" height="1.20" fill="#c8d8f0"/>
<path d="M18.20 45.50L18.20 49.00" stroke="#b0b0b0" stroke-width="0.8" fill="none" />
<rect x="15.2" y="49.3" width="6.2" height="6.4" fill="#fcfcfc" stroke="#b4b4b4" stroke-width="0.8" rx="0.8"/>
<rect x="16.70" y="52.10" width="3.20" height="0.90" fill="#4a60c8"/>
<rect x="24.00" y="48.00" width="9.60" height="9.50" fill="#0a5dc2" rx="1.6"/>
<path d="M26.4 53.0l1.9 1.9 3.2-3.6" stroke="#fff" stroke-width="1.1" fill="none"/>
<path d="M21.50 52.60L24.00 52.60" stroke="#c0c0c0" stroke-width="0.8" fill="none" />
<rect x="37.00" y="50.60" width="4.20" height="3.80" fill="#4a4a8a" fill-opacity="0.9"/>
<rect x="36.40" y="52.00" width="0.80" height="1.20" fill="#8888b0"/>
<rect x="38.00" y="51.40" width="2.20" height="1.40" fill="#7878b8"/>
<path d="M28.6 60.5V66.6H33.4" stroke="#b8b8b8" stroke-width="0.8" fill="none"/>
<rect x="34.00" y="62.00" width="9.60" height="9.50" fill="#0a5dc2" rx="1.6"/>
<path d="M36.4 67.0l1.9 1.9 3.2-3.6" stroke="#fff" stroke-width="1.1" fill="none"/>
<path d="M46.6 65.6l1.8-1.8 1.8 1.8z" fill="#e89030"/>
<rect x="48.20" y="65.40" width="0.90" height="1.60" fill="#e08020"/>
<rect x="48.00" y="66.40" width="4.20" height="2.80" fill="#a8c8e8"/>
<rect x="48.00" y="68.20" width="4.20" height="1.00" fill="#7098c8" fill-opacity="0.8"/>
<rect x="319.30" y="26.30" width="1.60" height="1.80" fill="#4f6ea8"/>
<rect x="319.30" y="116.20" width="1.60" height="1.80" fill="#4f6ea8"/>
<rect x="319.30" y="129.30" width="1.60" height="1.80" fill="#4f6ea8"/>
<rect x="385.50" y="55.60" width="383.00" height="255.70" fill="#fff"/>
<path d="M420.40 55.60L420.40 311.30" stroke="#cdcdcd" stroke-width="1" fill="none" stroke-dasharray="1 2.2"/>
<path d="M477.45 55.60L477.45 311.30" stroke="#cdcdcd" stroke-width="1" fill="none" stroke-dasharray="1 2.2"/>
<path d="M534.50 55.60L534.50 311.30" stroke="#cdcdcd" stroke-width="1" fill="none" stroke-dasharray="1 2.2"/>
<path d="M591.55 55.60L591.55 311.30" stroke="#cdcdcd" stroke-width="1" fill="none" stroke-dasharray="1 2.2"/>
<path d="M648.60 55.60L648.60 311.30" stroke="#cdcdcd" stroke-width="1" fill="none" stroke-dasharray="1 2.2"/>
<path d="M705.65 55.60L705.65 311.30" stroke="#cdcdcd" stroke-width="1" fill="none" stroke-dasharray="1 2.2"/>
<path d="M762.70 55.60L762.70 311.30" stroke="#cdcdcd" stroke-width="1" fill="none" stroke-dasharray="1 2.2"/>
<path d="M385.50 88.30L768.50 88.30" stroke="#cdcdcd" stroke-width="1" fill="none" stroke-dasharray="1 2.2"/>
<path d="M385.50 130.90L768.50 130.90" stroke="#cdcdcd" stroke-width="1" fill="none" stroke-dasharray="1 2.2"/>
<path d="M385.50 173.50L768.50 173.50" stroke="#cdcdcd" stroke-width="1" fill="none" stroke-dasharray="1 2.2"/>
<path d="M385.50 216.10L768.50 216.10" stroke="#cdcdcd" stroke-width="1" fill="none" stroke-dasharray="1 2.2"/>
<path d="M385.50 258.70L768.50 258.70" stroke="#cdcdcd" stroke-width="1" fill="none" stroke-dasharray="1 2.2"/>
<path d="M385.50 301.30L768.50 301.30" stroke="#cdcdcd" stroke-width="1" fill="none" stroke-dasharray="1 2.2"/>
<path d="M385.50 151.50L768.50 151.50" stroke="#80c280" stroke-width="0.8" fill="none" />
<path d="M385.50 258.70L768.50 258.70" stroke="#8ec4f5" stroke-width="1" fill="none" />
<defs><filter id="bl" x="0" y="0" width="1" height="1"><feGaussianBlur stdDeviation="0.42 0.3"/></filter></defs><g filter="url(#bl)"><rect x="479" y="134.4" width="1" height="145.5" fill="#1e8cf5" fill-opacity="0.60"/>
<rect x="479" y="158.6" width="1" height="57.5" fill="#ffffff"/>
<rect x="479" y="158.6" width="1" height="57.5" fill="#a3521b" fill-opacity="0.48"/>
<rect x="479" y="158.6" width="1" height="10.3" fill="#5079b8" fill-opacity="0.72"/>
<rect x="479" y="205.2" width="1" height="10.9" fill="#5079b8" fill-opacity="0.72"/>
<rect x="479" y="105.0" width="1" height="29.7" fill="#008000" fill-opacity="0.54"/>
<rect x="479" y="134.7" width="1" height="32.1" fill="#00701c" fill-opacity="0.39"/>
<rect x="480" y="132.5" width="1" height="147.4" fill="#1e8cf5" fill-opacity="0.35"/>
<rect x="480" y="158.6" width="1" height="57.5" fill="#ffffff" fill-opacity="0.59"/>
<rect x="480" y="158.6" width="1" height="57.5" fill="#a3521b" fill-opacity="0.28"/>
<rect x="480" y="158.6" width="1" height="11.4" fill="#5079b8" fill-opacity="0.42"/>
<rect x="480" y="205.1" width="1" height="11.0" fill="#5079b8" fill-opacity="0.42"/>
<rect x="480" y="101.5" width="1" height="31.4" fill="#008000" fill-opacity="0.31"/>
<rect x="480" y="132.8" width="1" height="29.2" fill="#00701c" fill-opacity="0.23"/>
<rect x="481" y="131.5" width="1" height="147.9" fill="#1e8cf5" fill-opacity="0.44"/>
<rect x="481" y="158.6" width="1" height="57.5" fill="#ffffff" fill-opacity="0.75"/>
<rect x="481" y="158.6" width="1" height="57.5" fill="#a3521b" fill-opacity="0.36"/>
<rect x="481" y="158.6" width="1" height="5.1" fill="#5079b8" fill-opacity="0.53"/>
<rect x="481" y="202.1" width="1" height="14.0" fill="#5079b8" fill-opacity="0.53"/>
<rect x="481" y="94.3" width="1" height="37.4" fill="#008000" fill-opacity="0.40"/>
<rect x="481" y="131.8" width="1" height="33.3" fill="#00701c" fill-opacity="0.29"/>
<rect x="483" y="134.1" width="1" height="145.1" fill="#1e8cf5" fill-opacity="0.42"/>
<rect x="483" y="158.6" width="1" height="57.5" fill="#ffffff" fill-opacity="0.71"/>
<rect x="483" y="158.6" width="1" height="57.5" fill="#a3521b" fill-opacity="0.34"/>
<rect x="483" y="158.6" width="1" height="10.2" fill="#5079b8" fill-opacity="0.50"/>
<rect x="483" y="202.6" width="1" height="13.5" fill="#5079b8" fill-opacity="0.50"/>
<rect x="483" y="85.4" width="1" height="49.0" fill="#008000" fill-opacity="0.38"/>
<rect x="483" y="134.4" width="1" height="32.6" fill="#00701c" fill-opacity="0.27"/>
<rect x="484" y="133.5" width="1" height="147.2" fill="#1e8cf5" fill-opacity="0.39"/>
<rect x="484" y="158.6" width="1" height="57.5" fill="#ffffff" fill-opacity="0.67"/>
<rect x="484" y="158.6" width="1" height="57.5" fill="#a3521b" fill-opacity="0.32"/>
<rect x="484" y="158.6" width="1" height="9.9" fill="#5079b8" fill-opacity="0.47"/>
<rect x="484" y="207.8" width="1" height="8.3" fill="#5079b8" fill-opacity="0.47"/>
<rect x="484" y="108.2" width="1" height="25.6" fill="#008000" fill-opacity="0.35"/>
<rect x="484" y="133.8" width="1" height="28.4" fill="#00701c" fill-opacity="0.26"/>
<rect x="484" y="126.0" width="1" height="2.5" fill="#008000" fill-opacity="0.80"/>
<rect x="485" y="137.5" width="1" height="126.0" fill="#1e8cf5" fill-opacity="0.47"/>
<rect x="485" y="158.6" width="1" height="57.5" fill="#ffffff" fill-opacity="0.80"/>
<rect x="485" y="158.6" width="1" height="57.5" fill="#a3521b" fill-opacity="0.37"/>
<rect x="485" y="158.6" width="1" height="9.6" fill="#5079b8" fill-opacity="0.56"/>
<rect x="485" y="202.8" width="1" height="13.3" fill="#5079b8" fill-opacity="0.56"/>
<rect x="485" y="87.1" width="1" height="50.7" fill="#008000" fill-opacity="0.42"/>
<rect x="485" y="137.8" width="1" height="21.9" fill="#00701c" fill-opacity="0.30"/>
<rect x="485" y="134.8" width="1" height="2.5" fill="#008000" fill-opacity="0.80"/>
<rect x="486" y="131.5" width="1" height="128.5" fill="#1e8cf5" fill-opacity="0.39"/>
<rect x="486" y="158.6" width="1" height="57.5" fill="#ffffff" fill-opacity="0.67"/>
<rect x="486" y="158.6" width="1" height="57.5" fill="#a3521b" fill-opacity="0.31"/>
<rect x="486" y="158.6" width="1" height="9.9" fill="#5079b8" fill-opacity="0.47"/>
<rect x="486" y="204.6" width="1" height="11.5" fill="#5079b8" fill-opacity="0.47"/>
<rect x="486" y="86.9" width="1" height="44.9" fill="#008000" fill-opacity="0.35"/>
<rect x="486" y="131.8" width="1" height="30.0" fill="#00701c" fill-opacity="0.25"/>
<rect x="487" y="130.0" width="1" height="154.1" fill="#1e8cf5" fill-opacity="0.38"/>
<rect x="487" y="158.6" width="1" height="57.5" fill="#ffffff" fill-opacity="0.64"/>
<rect x="487" y="158.6" width="1" height="57.5" fill="#a3521b" fill-opacity="0.30"/>
<rect x="487" y="158.6" width="1" height="6.8" fill="#5079b8" fill-opacity="0.45"/>
<rect x="487" y="202.4" width="1" height="13.7" fill="#5079b8" fill-opacity="0.45"/>
<rect x="487" y="85.5" width="1" height="44.9" fill="#008000" fill-opacity="0.34"/>
<rect x="487" y="130.3" width="1" height="29.9" fill="#00701c" fill-opacity="0.24"/>
<rect x="488" y="132.7" width="1" height="150.3" fill="#1e8cf5"/>
<rect x="488" y="161.5" width="1" height="48.3" fill="#ffffff" fill-opacity="0.35"/>
<rect x="488" y="161.5" width="1" height="48.3" fill="#a3521b" fill-opacity="0.35"/>
<rect x="488" y="161.5" width="1" height="5.6" fill="#4f6490" fill-opacity="0.92"/>
<rect x="488" y="205.0" width="1" height="4.8" fill="#3f72b5" fill-opacity="0.85"/>
<rect x="488" y="93.5" width="1" height="39.4" fill="#008000" fill-opacity="0.97"/>
<rect x="488" y="133.0" width="1" height="31.4" fill="#00701c" fill-opacity="0.70"/>
<rect x="489" y="128.8" width="1" height="152.6" fill="#1e8cf5"/>
<rect x="489" y="161.8" width="1" height="50.8" fill="#ffffff"/>
<rect x="489" y="161.8" width="1" height="50.8" fill="#a3521b"/>
<rect x="489" y="161.8" width="1" height="12.1" fill="#4f6490" fill-opacity="0.92"/>
<rect x="489" y="94.2" width="1" height="34.9" fill="#008000" fill-opacity="0.34"/>
<rect x="489" y="129.1" width="1" height="31.4" fill="#00701c" fill-opacity="0.24"/>
<rect x="489" y="107.7" width="1" height="23.2" fill="#008000" fill-opacity="0.60"/>
<rect x="490" y="135.2" width="1" height="143.5" fill="#1e8cf5" fill-opacity="0.35"/>
<rect x="490" y="155.2" width="1" height="55.0" fill="#ffffff" fill-opacity="0.60"/>
<rect x="490" y="155.2" width="1" height="55.0" fill="#a3521b" fill-opacity="0.60"/>
<rect x="490" y="155.2" width="1" height="9.4" fill="#4f6490" fill-opacity="0.92"/>
<rect x="490" y="94.6" width="1" height="41.0" fill="#008000" fill-opacity="0.97"/>
<rect x="490" y="135.5" width="1" height="23.4" fill="#00701c" fill-opacity="0.70"/>
<rect x="491" y="136.8" width="1" height="143.0" fill="#1e8cf5" fill-opacity="0.35"/>
<rect x="491" y="158.1" width="1" height="48.9" fill="#ffffff"/>
<rect x="491" y="158.1" width="1" height="48.9" fill="#a3521b"/>
<rect x="491" y="158.1" width="1" height="9.7" fill="#4f6490" fill-opacity="0.92"/>
<rect x="491" y="86.4" width="1" height="50.7" fill="#008000" fill-opacity="0.58"/>
<rect x="491" y="137.1" width="1" height="18.1" fill="#00701c" fill-opacity="0.42"/>
<rect x="492" y="134.1" width="1" height="145.2" fill="#1e8cf5"/>
<rect x="492" y="158.2" width="1" height="53.6" fill="#ffffff" fill-opacity="0.60"/>
<rect x="492" y="158.2" width="1" height="53.6" fill="#a3521b" fill-opacity="0.60"/>
<rect x="492" y="158.2" width="1" height="6.8" fill="#4f6490" fill-opacity="0.92"/>
<rect x="492" y="86.5" width="1" height="47.9" fill="#008000" fill-opacity="0.58"/>
<rect x="492" y="134.4" width="1" height="21.8" fill="#00701c" fill-opacity="0.42"/>
<rect x="492" y="99.5" width="1" height="31.4" fill="#008000" fill-opacity="0.60"/>
<rect x="493" y="135.4" width="1" height="148.7" fill="#1e8cf5" fill-opacity="0.60"/>
<rect x="493" y="157.7" width="1" height="54.4" fill="#ffffff"/>
<rect x="493" y="157.7" width="1" height="54.4" fill="#a3521b"/>
<rect x="493" y="157.7" width="1" height="8.4" fill="#4f6490" fill-opacity="0.92"/>
<rect x="493" y="95.8" width="1" height="39.9" fill="#008000" fill-opacity="0.97"/>
<rect x="493" y="135.7" width="1" height="27.4" fill="#00701c" fill-opacity="0.70"/>
<rect x="494" y="136.7" width="1" height="147.0" fill="#1e8cf5"/>
<rect x="494" y="161.6" width="1" height="51.4" fill="#ffffff"/>
<rect x="494" y="161.6" width="1" height="51.4" fill="#a3521b"/>
<rect x="494" y="161.6" width="1" height="7.2" fill="#4f6490" fill-opacity="0.92"/>
<rect x="494" y="209.5" width="1" height="3.5" fill="#3f72b5" fill-opacity="0.85"/>
<rect x="494" y="92.5" width="1" height="44.5" fill="#008000" fill-opacity="0.58"/>
<rect x="494" y="137.0" width="1" height="26.9" fill="#00701c" fill-opacity="0.42"/>
<rect x="495" y="131.2" width="1" height="152.7" fill="#1e8cf5"/>
<rect x="495" y="156.8" width="1" height="58.2" fill="#ffffff"/>
<rect x="495" y="156.8" width="1" height="58.2" fill="#a3521b"/>
<rect x="495" y="156.8" width="1" height="6.1" fill="#4f6490" fill-opacity="0.92"/>
<rect x="495" y="85.8" width="1" height="45.7" fill="#008000" fill-opacity="0.34"/>
<rect x="495" y="131.5" width="1" height="33.4" fill="#00701c" fill-opacity="0.24"/>
<rect x="495" y="99.6" width="1" height="31.3" fill="#008000" fill-opacity="0.60"/>
<rect x="496" y="137.4" width="1" height="142.3" fill="#1e8cf5"/>
<rect x="496" y="161.5" width="1" height="54.5" fill="#ffffff" fill-opacity="0.60"/>
<rect x="496" y="161.5" width="1" height="54.5" fill="#a3521b" fill-opacity="0.60"/>
<rect x="496" y="161.5" width="1" height="8.8" fill="#4f6490" fill-opacity="0.92"/>
<rect x="496" y="87.5" width="1" height="50.2" fill="#008000" fill-opacity="0.58"/>
<rect x="496" y="137.7" width="1" height="25.8" fill="#00701c" fill-opacity="0.42"/>
<rect x="497" y="134.5" width="1" height="148.9" fill="#1e8cf5" fill-opacity="0.60"/>
<rect x="497" y="159.4" width="1" height="55.9" fill="#ffffff" fill-opacity="0.60"/>
<rect x="497" y="159.4" width="1" height="55.9" fill="#a3521b" fill-opacity="0.60"/>
<rect x="497" y="159.4" width="1" height="12.3" fill="#4f6490" fill-opacity="0.92"/>
<rect x="497" y="95.8" width="1" height="39.0" fill="#008000" fill-opacity="0.97"/>
<rect x="497" y="134.8" width="1" height="23.0" fill="#00701c" fill-opacity="0.70"/>
<rect x="498" y="136.5" width="1" height="146.5" fill="#1e8cf5"/>
<rect x="498" y="155.9" width="1" height="60.2" fill="#ffffff" fill-opacity="0.60"/>
<rect x="498" y="155.9" width="1" height="60.2" fill="#a3521b" fill-opacity="0.60"/>
<rect x="498" y="85.9" width="1" height="50.8" fill="#008000" fill-opacity="0.34"/>
<rect x="498" y="136.8" width="1" height="27.1" fill="#00701c" fill-opacity="0.24"/>
<rect x="499" y="136.1" width="1" height="145.9" fill="#1e8cf5"/>
<rect x="499" y="156.7" width="1" height="59.0" fill="#ffffff"/>
<rect x="499" y="156.7" width="1" height="59.0" fill="#a3521b"/>
<rect x="499" y="156.7" width="1" height="7.7" fill="#4f6490" fill-opacity="0.92"/>
<rect x="499" y="87.9" width="1" height="48.6" fill="#008000" fill-opacity="0.58"/>
<rect x="499" y="136.4" width="1" height="24.9" fill="#00701c" fill-opacity="0.42"/>
<rect x="500" y="128.9" width="1" height="155.5" fill="#1e8cf5" fill-opacity="0.60"/>
<rect x="500" y="157.3" width="1" height="58.8" fill="#ffffff" fill-opacity="0.35"/>
<rect x="500" y="157.3" width="1" height="58.8" fill="#a3521b" fill-opacity="0.35"/>
<rect x="500" y="157.3" width="1" height="9.2" fill="#4f6490" fill-opacity="0.92"/>
<rect x="500" y="91.0" width="1" height="38.3" fill="#008000" fill-opacity="0.58"/>
<rect x="500" y="129.2" width="1" height="33.9" fill="#00701c" fill-opacity="0.42"/>
<rect x="501" y="132.2" width="1" height="147.1" fill="#1e8cf5"/>
<rect x="501" y="158.2" width="1" height="57.9" fill="#ffffff" fill-opacity="0.60"/>
<rect x="501" y="158.2" width="1" height="57.9" fill="#a3521b" fill-opacity="0.60"/>
<rect x="501" y="158.2" width="1" height="12.8" fill="#4f6490" fill-opacity="0.92"/>
<rect x="501" y="85.9" width="1" height="46.6" fill="#008000" fill-opacity="0.34"/>
<rect x="501" y="132.5" width="1" height="28.2" fill="#00701c" fill-opacity="0.24"/>
<rect x="501" y="113.4" width="1" height="17.5" fill="#008000" fill-opacity="0.60"/>
<rect x="502" y="132.7" width="1" height="147.2" fill="#1e8cf5"/>
<rect x="502" y="156.6" width="1" height="59.5" fill="#ffffff"/>
<rect x="502" y="156.6" width="1" height="59.5" fill="#a3521b"/>
<rect x="502" y="87.7" width="1" height="45.3" fill="#008000" fill-opacity="0.97"/>
<rect x="502" y="133.0" width="1" height="27.0" fill="#00701c" fill-opacity="0.70"/>
<rect x="503" y="132.4" width="1" height="147.4" fill="#1e8cf5"/>
<rect x="503" y="158.1" width="1" height="58.0" fill="#ffffff"/>
<rect x="503" y="158.1" width="1" height="58.0" fill="#a3521b"/>
<rect x="503" y="158.1" width="1" height="10.8" fill="#4f6490" fill-opacity="0.92"/>
<rect x="503" y="211.8" width="1" height="4.3" fill="#3f72b5" fill-opacity="0.85"/>
<rect x="503" y="87.7" width="1" height="45.0" fill="#008000" fill-opacity="0.97"/>
<rect x="503" y="132.7" width="1" height="28.4" fill="#00701c" fill-opacity="0.70"/>
<rect x="504" y="132.3" width="1" height="147.4" fill="#1e8cf5" fill-opacity="0.60"/>
<rect x="504" y="156.3" width="1" height="59.8" fill="#ffffff" fill-opacity="0.60"/>
<rect x="504" y="156.3" width="1" height="59.8" fill="#a3521b" fill-opacity="0.60"/>
<rect x="504" y="156.3" width="1" height="11.9" fill="#4f6490" fill-opacity="0.92"/>
<rect x="504" y="209.8" width="1" height="6.3" fill="#3f72b5" fill-opacity="0.85"/>
<rect x="504" y="96.0" width="1" height="36.6" fill="#008000" fill-opacity="0.58"/>
<rect x="504" y="132.6" width="1" height="31.3" fill="#00701c" fill-opacity="0.42"/>
<rect x="504" y="128.4" width="1" height="2.5" fill="#008000" fill-opacity="0.60"/>
<rect x="510" y="133.3" width="1" height="129.7" fill="#1e8cf5" fill-opacity="0.60"/>
<rect x="510" y="158.6" width="1" height="57.5" fill="#ffffff"/>
<rect x="510" y="158.6" width="1" height="57.5" fill="#a3521b" fill-opacity="0.48"/>
<rect x="510" y="158.6" width="1" height="10.9" fill="#5079b8" fill-opacity="0.72"/>
<rect x="510" y="203.1" width="1" height="13.0" fill="#5079b8" fill-opacity="0.72"/>
<rect x="510" y="106.2" width="1" height="27.4" fill="#008000" fill-opacity="0.54"/>
<rect x="510" y="133.6" width="1" height="25.6" fill="#00701c" fill-opacity="0.39"/>
<rect x="510" y="107.9" width="1" height="2.5" fill="#008000" fill-opacity="0.80"/>
<rect x="511" y="136.1" width="1" height="142.8" fill="#1e8cf5" fill-opacity="0.52"/>
<rect x="511" y="158.6" width="1" height="57.5" fill="#ffffff" fill-opacity="0.89"/>
<rect x="511" y="158.6" width="1" height="57.5" fill="#a3521b" fill-opacity="0.42"/>
<rect x="511" y="158.6" width="1" height="7.1" fill="#5079b8" fill-opacity="0.63"/>
<rect x="511" y="207.2" width="1" height="8.9" fill="#5079b8" fill-opacity="0.63"/>
<rect x="511" y="108.1" width="1" height="28.2" fill="#008000" fill-opacity="0.47"/>
<rect x="511" y="136.4" width="1" height="25.0" fill="#00701c" fill-opacity="0.34"/>
<rect x="512" y="134.7" width="1" height="149.1" fill="#1e8cf5" fill-opacity="0.38"/>
<rect x="512" y="158.6" width="1" height="57.5" fill="#ffffff" fill-opacity="0.64"/>
<rect x="512" y="158.6" width="1" height="57.5" fill="#a3521b" fill-opacity="0.30"/>
<rect x="512" y="158.6" width="1" height="11.1" fill="#5079b8" fill-opacity="0.45"/>
<rect x="512" y="202.4" width="1" height="13.7" fill="#5079b8" fill-opacity="0.45"/>
<rect x="512" y="86.0" width="1" height="48.9" fill="#008000" fill-opacity="0.34"/>
<rect x="512" y="135.0" width="1" height="27.0" fill="#00701c" fill-opacity="0.24"/>
<rect x="513" y="132.1" width="1" height="150.8" fill="#1e8cf5" fill-opacity="0.46"/>
<rect x="513" y="158.6" width="1" height="57.5" fill="#ffffff" fill-opacity="0.78"/>
<rect x="513" y="158.6" width="1" height="57.5" fill="#a3521b" fill-opacity="0.37"/>
<rect x="513" y="158.6" width="1" height="6.8" fill="#5079b8" fill-opacity="0.55"/>
<rect x="513" y="205.8" width="1" height="10.3" fill="#5079b8" fill-opacity="0.55"/>
<rect x="513" y="87.8" width="1" height="44.6" fill="#008000" fill-opacity="0.41"/>
<rect x="513" y="132.4" width="1" height="35.3" fill="#00701c" fill-opacity="0.30"/>
<rect x="514" y="135.0" width="1" height="144.5" fill="#1e8cf5" fill-opacity="0.48"/>
<rect x="514" y="158.6" width="1" height="57.5" fill="#ffffff" fill-opacity="0.82"/>
<rect x="514" y="158.6" width="1" height="57.5" fill="#a3521b" fill-opacity="0.38"/>
<rect x="514" y="158.6" width="1" height="5.2" fill="#5079b8" fill-opacity="0.58"/>
<rect x="514" y="203.3" width="1" height="12.8" fill="#5079b8" fill-opacity="0.58"/>
<rect x="514" y="85.6" width="1" height="49.7" fill="#008000" fill-opacity="0.43"/>
<rect x="514" y="135.3" width="1" height="22.7" fill="#00701c" fill-opacity="0.31"/>
<rect x="515" y="136.1" width="1" height="143.5" fill="#1e8cf5" fill-opacity="0.52"/>
<rect x="515" y="158.6" width="1" height="57.5" fill="#ffffff" fill-opacity="0.88"/>
<rect x="515" y="158.6" width="1" height="57.5" fill="#a3521b" fill-opacity="0.42"/>
<rect x="515" y="158.6" width="1" height="6.9" fill="#5079b8" fill-opacity="0.62"/>
<rect x="515" y="208.0" width="1" height="8.1" fill="#5079b8" fill-opacity="0.62"/>
<rect x="515" y="105.6" width="1" height="30.8" fill="#008000" fill-opacity="0.47"/>
<rect x="515" y="136.4" width="1" height="23.4" fill="#00701c" fill-opacity="0.34"/>
<rect x="516" y="134.8" width="1" height="144.4" fill="#1e8cf5" fill-opacity="0.53"/>
<rect x="516" y="158.6" width="1" height="57.5" fill="#ffffff" fill-opacity="0.90"/>
<rect x="516" y="158.6" width="1" height="57.5" fill="#a3521b" fill-opacity="0.42"/>
<rect x="516" y="158.6" width="1" height="9.0" fill="#5079b8" fill-opacity="0.63"/>
<rect x="516" y="202.0" width="1" height="14.1" fill="#5079b8" fill-opacity="0.63"/>
<rect x="516" y="94.3" width="1" height="40.8" fill="#008000" fill-opacity="0.48"/>
<rect x="516" y="135.1" width="1" height="20.4" fill="#00701c" fill-opacity="0.34"/>
<rect x="516" y="122.1" width="1" height="2.5" fill="#008000" fill-opacity="0.80"/>
<rect x="517" y="129.0" width="1" height="136.4" fill="#1e8cf5" fill-opacity="0.39"/>
<rect x="517" y="158.6" width="1" height="57.5" fill="#ffffff" fill-opacity="0.67"/>
<rect x="517" y="158.6" width="1" height="57.5" fill="#a3521b" fill-opacity="0.31"/>
<rect x="517" y="158.6" width="1" height="5.7" fill="#5079b8" fill-opacity="0.47"/>
<rect x="517" y="204.9" width="1" height="11.2" fill="#5079b8" fill-opacity="0.47"/>
<rect x="517" y="85.4" width="1" height="43.9" fill="#008000" fill-opacity="0.35"/>
<rect x="517" y="129.3" width="1" height="25.9" fill="#00701c" fill-opacity="0.25"/>
<rect x="518" y="132.0" width="1" height="143.4" fill="#1e8cf5" fill-opacity="0.36"/>
<rect x="518" y="158.6" width="1" height="57.5" fill="#ffffff" fill-opacity="0.60"/>
<rect x="518" y="158.6" width="1" height="57.5" fill="#a3521b" fill-opacity="0.28"/>
<rect x="518" y="158.6" width="1" height="10.4" fill="#5079b8" fill-opacity="0.43"/>
<rect x="518" y="205.3" width="1" height="10.8" fill="#5079b8" fill-opacity="0.43"/>
<rect x="518" y="88.8" width="1" height="43.5" fill="#008000" fill-opacity="0.32"/>
<rect x="518" y="132.3" width="1" height="30.3" fill="#00701c" fill-opacity="0.23"/>
<rect x="519" y="132.8" width="1" height="146.6" fill="#1e8cf5"/>
<rect x="519" y="161.0" width="1" height="52.0" fill="#ffffff"/>
<rect x="519" y="161.0" width="1" height="52.0" fill="#a3521b"/>
<rect x="519" y="161.0" width="1" height="6.3" fill="#4f6490" fill-opacity="0.92"/>
<rect x="519" y="85.6" width="1" height="47.5" fill="#008000" fill-opacity="0.58"/>
<rect x="519" y="133.1" width="1" height="25.3" fill="#00701c" fill-opacity="0.42"/>
<rect x="519" y="119.5" width="1" height="11.4" fill="#008000" fill-opacity="0.60"/>
<rect x="520" y="135.0" width="1" height="146.6" fill="#1e8cf5"/>
<rect x="520" y="159.3" width="1" height="47.3" fill="#ffffff" fill-opacity="0.35"/>
<rect x="520" y="159.3" width="1" height="47.3" fill="#a3521b" fill-opacity="0.35"/>
<rect x="520" y="89.3" width="1" height="46.0" fill="#008000" fill-opacity="0.34"/>
<rect x="520" y="135.3" width="1" height="24.7" fill="#00701c" fill-opacity="0.24"/>
<rect x="520" y="106.4" width="1" height="24.5" fill="#008000" fill-opacity="0.60"/>
<rect x="521" y="131.4" width="1" height="151.3" fill="#1e8cf5"/>
<rect x="521" y="156.9" width="1" height="54.4" fill="#ffffff"/>
<rect x="521" y="156.9" width="1" height="54.4" fill="#a3521b"/>
<rect x="521" y="156.9" width="1" height="13.0" fill="#4f6490" fill-opacity="0.92"/>
<rect x="521" y="90.3" width="1" height="41.4" fill="#008000" fill-opacity="0.97"/>
<rect x="521" y="131.7" width="1" height="34.8" fill="#00701c" fill-opacity="0.70"/>
<rect x="522" y="135.6" width="1" height="144.8" fill="#1e8cf5" fill-opacity="0.60"/>
<rect x="522" y="161.4" width="1" height="45.7" fill="#ffffff" fill-opacity="0.60"/>
<rect x="522" y="161.4" width="1" height="45.7" fill="#a3521b" fill-opacity="0.60"/>
<rect x="522" y="161.4" width="1" height="12.8" fill="#4f6490" fill-opacity="0.92"/>
<rect x="522" y="88.6" width="1" height="47.2" fill="#008000" fill-opacity="0.34"/>
<rect x="522" y="135.9" width="1" height="31.3" fill="#00701c" fill-opacity="0.24"/>
<rect x="522" y="110.5" width="1" height="20.4" fill="#008000" fill-opacity="0.60"/>
<rect x="523" y="135.5" width="1" height="143.7" fill="#1e8cf5"/>
<rect x="523" y="159.2" width="1" height="53.2" fill="#ffffff"/>
<rect x="523" y="159.2" width="1" height="53.2" fill="#a3521b"/>
<rect x="523" y="159.2" width="1" height="7.7" fill="#4f6490" fill-opacity="0.92"/>
<rect x="523" y="88.9" width="1" height="46.9" fill="#008000" fill-opacity="0.58"/>
<rect x="523" y="135.8" width="1" height="30.6" fill="#00701c" fill-opacity="0.42"/>
<rect x="524" y="136.4" width="1" height="143.8" fill="#1e8cf5" fill-opacity="0.60"/>
<rect x="524" y="158.6" width="1" height="52.3" fill="#ffffff"/>
<rect x="524" y="158.6" width="1" height="52.3" fill="#a3521b"/>
<rect x="524" y="158.6" width="1" height="12.4" fill="#4f6490" fill-opacity="0.92"/>
<rect x="524" y="88.0" width="1" height="48.7" fill="#008000" fill-opacity="0.58"/>
<rect x="524" y="136.7" width="1" height="20.1" fill="#00701c" fill-opacity="0.42"/>
<rect x="524" y="102.6" width="1" height="28.3" fill="#008000" fill-opacity="0.60"/>
<rect x="525" y="128.9" width="1" height="154.5" fill="#1e8cf5"/>
<rect x="525" y="160.5" width="1" height="53.2" fill="#ffffff" fill-opacity="0.60"/>
<rect x="525" y="160.5" width="1" height="53.2" fill="#a3521b" fill-opacity="0.60"/>
<rect x="525" y="160.5" width="1" height="10.6" fill="#4f6490" fill-opacity="0.92"/>
<rect x="525" y="212.5" width="1" height="1.2" fill="#3f72b5" fill-opacity="0.85"/>
<rect x="525" y="86.1" width="1" height="43.0" fill="#008000" fill-opacity="0.97"/>
<rect x="525" y="129.2" width="1" height="34.1" fill="#00701c" fill-opacity="0.70"/>
<rect x="526" y="137.1" width="1" height="142.8" fill="#1e8cf5" fill-opacity="0.60"/>
<rect x="526" y="160.4" width="1" height="53.8" fill="#ffffff"/>
<rect x="526" y="160.4" width="1" height="53.8" fill="#a3521b"/>
<rect x="526" y="160.4" width="1" height="12.5" fill="#4f6490" fill-opacity="0.92"/>
<rect x="526" y="87.2" width="1" height="50.2" fill="#008000" fill-opacity="0.97"/>
<rect x="526" y="137.4" width="1" height="25.9" fill="#00701c" fill-opacity="0.70"/>
<rect x="527" y="136.3" width="1" height="145.8" fill="#1e8cf5"/>
<rect x="527" y="161.5" width="1" height="53.6" fill="#ffffff"/>
<rect x="527" y="161.5" width="1" height="53.6" fill="#a3521b"/>
<rect x="527" y="161.5" width="1" height="12.0" fill="#4f6490" fill-opacity="0.92"/>
<rect x="527" y="214.9" width="1" height="0.2" fill="#3f72b5" fill-opacity="0.85"/>
<rect x="527" y="86.7" width="1" height="50.0" fill="#008000" fill-opacity="0.97"/>
<rect x="527" y="136.6" width="1" height="24.1" fill="#00701c" fill-opacity="0.70"/>
<rect x="528" y="133.7" width="1" height="148.3" fill="#1e8cf5" fill-opacity="0.60"/>
<rect x="528" y="162.2" width="1" height="48.2" fill="#ffffff" fill-opacity="0.60"/>
<rect x="528" y="162.2" width="1" height="48.2" fill="#a3521b" fill-opacity="0.60"/>
<rect x="528" y="162.2" width="1" height="6.2" fill="#4f6490" fill-opacity="0.92"/>
<rect x="528" y="90.4" width="1" height="43.6" fill="#008000" fill-opacity="0.34"/>
<rect x="528" y="134.0" width="1" height="31.1" fill="#00701c" fill-opacity="0.24"/>
<rect x="529" y="135.5" width="1" height="149.0" fill="#1e8cf5" fill-opacity="0.60"/>
<rect x="529" y="155.8" width="1" height="55.7" fill="#ffffff"/>
<rect x="529" y="155.8" width="1" height="55.7" fill="#a3521b"/>
<rect x="529" y="155.8" width="1" height="11.6" fill="#4f6490" fill-opacity="0.92"/>
<rect x="529" y="95.2" width="1" height="40.6" fill="#008000" fill-opacity="0.97"/>
<rect x="529" y="135.8" width="1" height="21.5" fill="#00701c" fill-opacity="0.70"/>
<rect x="530" y="136.4" width="1" height="146.6" fill="#1e8cf5" fill-opacity="0.35"/>
<rect x="530" y="157.2" width="1" height="58.9" fill="#ffffff" fill-opacity="0.60"/>
<rect x="530" y="157.2" width="1" height="58.9" fill="#a3521b" fill-opacity="0.60"/>
<rect x="530" y="87.7" width="1" height="49.0" fill="#008000" fill-opacity="0.34"/>
<rect x="530" y="136.7" width="1" height="25.9" fill="#00701c" fill-opacity="0.24"/>
<rect x="530" y="121.1" width="1" height="9.8" fill="#008000" fill-opacity="0.60"/>
<rect x="531" y="129.6" width="1" height="150.1" fill="#1e8cf5"/>
<rect x="531" y="155.9" width="1" height="60.2" fill="#ffffff"/>
<rect x="531" y="155.9" width="1" height="60.2" fill="#a3521b"/>
<rect x="531" y="155.9" width="1" height="5.9" fill="#4f6490" fill-opacity="0.92"/>
<rect x="531" y="214.2" width="1" height="1.9" fill="#3f72b5" fill-opacity="0.85"/>
<rect x="531" y="86.2" width="1" height="43.7" fill="#008000" fill-opacity="0.97"/>
<rect x="531" y="129.9" width="1" height="30.5" fill="#00701c" fill-opacity="0.70"/>
<rect x="532" y="133.0" width="1" height="150.2" fill="#1e8cf5"/>
<rect x="532" y="160.9" width="1" height="55.2" fill="#ffffff"/>
<rect x="532" y="160.9" width="1" height="55.2" fill="#a3521b"/>
<rect x="532" y="86.7" width="1" height="46.7" fill="#008000" fill-opacity="0.97"/>
<rect x="532" y="133.3" width="1" height="22.4" fill="#00701c" fill-opacity="0.70"/>
<rect x="533" y="133.5" width="1" height="146.2" fill="#1e8cf5"/>
<rect x="533" y="155.3" width="1" height="60.8" fill="#ffffff"/>
<rect x="533" y="155.3" width="1" height="60.8" fill="#a3521b"/>
<rect x="533" y="155.3" width="1" height="6.9" fill="#4f6490" fill-opacity="0.92"/>
<rect x="533" y="212.1" width="1" height="4.0" fill="#3f72b5" fill-opacity="0.85"/>
<rect x="533" y="85.9" width="1" height="47.9" fill="#008000" fill-opacity="0.97"/>
<rect x="533" y="133.8" width="1" height="25.0" fill="#00701c" fill-opacity="0.70"/>
<rect x="534" y="136.8" width="1" height="143.4" fill="#1e8cf5"/>
<rect x="534" y="158.8" width="1" height="55.6" fill="#ffffff"/>
<rect x="534" y="158.8" width="1" height="55.6" fill="#a3521b"/>
<rect x="534" y="158.8" width="1" height="11.2" fill="#4f6490" fill-opacity="0.92"/>
<rect x="534" y="207.4" width="1" height="7.0" fill="#3f72b5" fill-opacity="0.85"/>
<rect x="534" y="95.3" width="1" height="41.8" fill="#008000" fill-opacity="0.58"/>
<rect x="534" y="137.1" width="1" height="29.8" fill="#00701c" fill-opacity="0.42"/>
<rect x="534" y="123.3" width="1" height="7.6" fill="#008000" fill-opacity="0.60"/>
<rect x="535" y="136.7" width="1" height="142.7" fill="#1e8cf5"/>
<rect x="535" y="155.8" width="1" height="60.3" fill="#ffffff"/>
<rect x="535" y="155.8" width="1" height="60.3" fill="#a3521b"/>
<rect x="535" y="155.8" width="1" height="11.6" fill="#4f6490" fill-opacity="0.92"/>
<rect x="535" y="211.5" width="1" height="4.6" fill="#3f72b5" fill-opacity="0.85"/>
<rect x="535" y="87.8" width="1" height="49.2" fill="#008000" fill-opacity="0.97"/>
<rect x="535" y="137.0" width="1" height="20.3" fill="#00701c" fill-opacity="0.70"/>
<rect x="536" y="135.8" width="1" height="145.7" fill="#1e8cf5" fill-opacity="0.60"/>
<rect x="536" y="159.8" width="1" height="56.3" fill="#ffffff" fill-opacity="0.60"/>
<rect x="536" y="159.8" width="1" height="56.3" fill="#a3521b" fill-opacity="0.60"/>
<rect x="536" y="159.8" width="1" height="12.7" fill="#4f6490" fill-opacity="0.92"/>
<rect x="536" y="88.4" width="1" height="47.7" fill="#008000" fill-opacity="0.58"/>
<rect x="536" y="136.1" width="1" height="27.1" fill="#00701c" fill-opacity="0.42"/>
<rect x="542" y="133.8" width="1" height="142.6" fill="#1e8cf5" fill-opacity="0.60"/>
<rect x="542" y="158.6" width="1" height="57.5" fill="#ffffff"/>
<rect x="542" y="158.6" width="1" height="57.5" fill="#a3521b" fill-opacity="0.48"/>
<rect x="542" y="158.6" width="1" height="7.6" fill="#5079b8" fill-opacity="0.72"/>
<rect x="542" y="206.6" width="1" height="9.5" fill="#5079b8" fill-opacity="0.72"/>
<rect x="542" y="105.4" width="1" height="28.7" fill="#008000" fill-opacity="0.54"/>
<rect x="542" y="134.1" width="1" height="28.9" fill="#00701c" fill-opacity="0.39"/>
<rect x="543" y="134.7" width="1" height="144.4" fill="#1e8cf5" fill-opacity="0.38"/>
<rect x="543" y="158.6" width="1" height="57.5" fill="#ffffff" fill-opacity="0.65"/>
<rect x="543" y="158.6" width="1" height="57.5" fill="#a3521b" fill-opacity="0.30"/>
<rect x="543" y="158.6" width="1" height="9.4" fill="#5079b8" fill-opacity="0.46"/>
<rect x="543" y="203.1" width="1" height="13.0" fill="#5079b8" fill-opacity="0.46"/>
<rect x="543" y="109.7" width="1" height="25.3" fill="#008000" fill-opacity="0.34"/>
<rect x="543" y="135.0" width="1" height="23.9" fill="#00701c" fill-opacity="0.25"/>
<rect x="543" y="114.8" width="1" height="2.5" fill="#008000" fill-opacity="0.80"/>
<rect x="544" y="131.1" width="1" height="129.8" fill="#1e8cf5" fill-opacity="0.46"/>
<rect x="544" y="158.6" width="1" height="57.5" fill="#ffffff" fill-opacity="0.78"/>
<rect x="544" y="158.6" width="1" height="57.5" fill="#a3521b" fill-opacity="0.37"/>
<rect x="544" y="158.6" width="1" height="5.6" fill="#5079b8" fill-opacity="0.55"/>
<rect x="544" y="205.7" width="1" height="10.4" fill="#5079b8" fill-opacity="0.55"/>
<rect x="544" y="86.4" width="1" height="45.0" fill="#008000" fill-opacity="0.41"/>
<rect x="544" y="131.4" width="1" height="26.1" fill="#00701c" fill-opacity="0.30"/>
<rect x="545" y="137.6" width="1" height="143.5" fill="#1e8cf5" fill-opacity="0.42"/>
<rect x="545" y="158.6" width="1" height="57.5" fill="#ffffff" fill-opacity="0.72"/>
<rect x="545" y="158.6" width="1" height="57.5" fill="#a3521b" fill-opacity="0.34"/>
<rect x="545" y="158.6" width="1" height="7.3" fill="#5079b8" fill-opacity="0.51"/>
<rect x="545" y="204.5" width="1" height="11.6" fill="#5079b8" fill-opacity="0.51"/>
<rect x="545" y="87.3" width="1" height="50.6" fill="#008000" fill-opacity="0.38"/>
<rect x="545" y="137.9" width="1" height="21.8" fill="#00701c" fill-opacity="0.27"/>
<rect x="545" y="113.9" width="1" height="2.5" fill="#008000" fill-opacity="0.80"/>
<rect x="546" y="137.1" width="1" height="135.4" fill="#1e8cf5" fill-opacity="0.50"/>
<rect x="546" y="158.6" width="1" height="57.5" fill="#ffffff" fill-opacity="0.85"/>
<rect x="546" y="158.6" width="1" height="57.5" fill="#a3521b" fill-opacity="0.40"/>
<rect x="546" y="158.6" width="1" height="9.2" fill="#5079b8" fill-opacity="0.60"/>
<rect x="546" y="205.2" width="1" height="10.9" fill="#5079b8" fill-opacity="0.60"/>
<rect x="546" y="86.2" width="1" height="51.2" fill="#008000" fill-opacity="0.45"/>
<rect x="546" y="137.4" width="1" height="24.0" fill="#00701c" fill-opacity="0.32"/>
<rect x="547" y="132.6" width="1" height="127.6" fill="#1e8cf5" fill-opacity="0.38"/>
<rect x="547" y="158.6" width="1" height="57.5" fill="#ffffff" fill-opacity="0.65"/>
<rect x="547" y="158.6" width="1" height="57.5" fill="#a3521b" fill-opacity="0.30"/>
<rect x="547" y="158.6" width="1" height="7.0" fill="#5079b8" fill-opacity="0.46"/>
<rect x="547" y="206.3" width="1" height="9.8" fill="#5079b8" fill-opacity="0.46"/>
<rect x="547" y="91.4" width="1" height="41.5" fill="#008000" fill-opacity="0.34"/>
<rect x="547" y="132.9" width="1" height="33.5" fill="#00701c" fill-opacity="0.25"/>
<rect x="548" y="132.7" width="1" height="149.4" fill="#1e8cf5" fill-opacity="0.52"/>
<rect x="548" y="158.6" width="1" height="57.5" fill="#ffffff" fill-opacity="0.89"/>
<rect x="548" y="158.6" width="1" height="57.5" fill="#a3521b" fill-opacity="0.42"/>
<rect x="548" y="158.6" width="1" height="5.2" fill="#5079b8" fill-opacity="0.62"/>
<rect x="548" y="203.2" width="1" height="12.9" fill="#5079b8" fill-opacity="0.62"/>
<rect x="548" y="89.3" width="1" height="43.7" fill="#008000" fill-opacity="0.47"/>
<rect x="548" y="133.0" width="1" height="31.3" fill="#00701c" fill-opacity="0.34"/>
<rect x="549" y="128.9" width="1" height="150.1" fill="#1e8cf5" fill-opacity="0.45"/>
<rect x="549" y="158.6" width="1" height="57.5" fill="#ffffff" fill-opacity="0.77"/>
<rect x="549" y="158.6" width="1" height="57.5" fill="#a3521b" fill-opacity="0.36"/>
<rect x="549" y="158.6" width="1" height="10.4" fill="#5079b8" fill-opacity="0.55"/>
<rect x="549" y="202.1" width="1" height="14.0" fill="#5079b8" fill-opacity="0.55"/>
<rect x="549" y="93.9" width="1" height="35.3" fill="#008000" fill-opacity="0.41"/>
<rect x="549" y="129.2" width="1" height="30.2" fill="#00701c" fill-opacity="0.29"/>
<rect x="550" y="131.9" width="1" height="135.2" fill="#1e8cf5" fill-opacity="0.46"/>
<rect x="550" y="158.6" width="1" height="57.5" fill="#ffffff" fill-opacity="0.78"/>
<rect x="550" y="158.6" width="1" height="57.5" fill="#a3521b" fill-opacity="0.37"/>
<rect x="550" y="158.6" width="1" height="7.9" fill="#5079b8" fill-opacity="0.55"/>
<rect x="550" y="207.3" width="1" height="8.8" fill="#5079b8" fill-opacity="0.55"/>
<rect x="550" y="87.5" width="1" height="44.7" fill="#008000" fill-opacity="0.41"/>
<rect x="550" y="132.2" width="1" height="31.5" fill="#00701c" fill-opacity="0.30"/>
<rect x="551" y="134.1" width="1" height="145.4" fill="#1e8cf5" fill-opacity="0.60"/>
<rect x="551" y="157.1" width="1" height="47.6" fill="#ffffff"/>
<rect x="551" y="157.1" width="1" height="47.6" fill="#a3521b"/>
<rect x="551" y="157.1" width="1" height="13.0" fill="#4f6490" fill-opacity="0.92"/>
<rect x="551" y="91.8" width="1" height="42.6" fill="#008000" fill-opacity="0.97"/>
<rect x="551" y="134.4" width="1" height="28.0" fill="#00701c" fill-opacity="0.70"/>
<rect x="552" y="137.1" width="1" height="144.2" fill="#1e8cf5" fill-opacity="0.35"/>
<rect x="552" y="157.2" width="1" height="52.6" fill="#ffffff"/>
<rect x="552" y="157.2" width="1" height="52.6" fill="#a3521b"/>
<rect x="552" y="157.2" width="1" height="11.0" fill="#4f6490" fill-opacity="0.92"/>
<rect x="552" y="88.9" width="1" height="48.5" fill="#008000" fill-opacity="0.97"/>
<rect x="552" y="137.4" width="1" height="29.0" fill="#00701c" fill-opacity="0.70"/>
<rect x="553" y="131.9" width="1" height="150.9" fill="#1e8cf5"/>
<rect x="553" y="161.0" width="1" height="52.5" fill="#ffffff"/>
<rect x="553" y="161.0" width="1" height="52.5" fill="#a3521b"/>
<rect x="553" y="161.0" width="1" height="12.3" fill="#4f6490" fill-opacity="0.92"/>
<rect x="553" y="95.7" width="1" height="36.5" fill="#008000" fill-opacity="0.97"/>
<rect x="553" y="132.2" width="1" height="30.3" fill="#00701c" fill-opacity="0.70"/>
<rect x="554" y="131.6" width="1" height="148.3" fill="#1e8cf5"/>
<rect x="554" y="155.6" width="1" height="59.7" fill="#ffffff" fill-opacity="0.60"/>
<rect x="554" y="155.6" width="1" height="59.7" fill="#a3521b" fill-opacity="0.60"/>
<rect x="554" y="155.6" width="1" height="7.0" fill="#4f6490" fill-opacity="0.92"/>
<rect x="554" y="212.5" width="1" height="2.8" fill="#3f72b5" fill-opacity="0.85"/>
<rect x="554" y="85.6" width="1" height="46.2" fill="#008000" fill-opacity="0.58"/>
<rect x="554" y="131.9" width="1" height="25.7" fill="#00701c" fill-opacity="0.42"/>
<rect x="554" y="106.0" width="1" height="24.9" fill="#008000" fill-opacity="0.60"/>
<rect x="555" y="134.3" width="1" height="144.8" fill="#1e8cf5"/>
<rect x="555" y="161.3" width="1" height="49.1" fill="#ffffff"/>
<rect x="555" y="161.3" width="1" height="49.1" fill="#a3521b"/>
<rect x="555" y="161.3" width="1" height="12.4" fill="#4f6490" fill-opacity="0.92"/>
<rect x="555" y="85.8" width="1" height="48.8" fill="#008000" fill-opacity="0.58"/>
<rect x="555" y="134.6" width="1" height="28.8" fill="#00701c" fill-opacity="0.42"/>
<rect x="555" y="102.2" width="1" height="28.7" fill="#008000" fill-opacity="0.60"/>
<rect x="556" y="134.3" width="1" height="144.6" fill="#1e8cf5" fill-opacity="0.35"/>
<rect x="556" y="155.9" width="1" height="57.7" fill="#ffffff"/>
<rect x="556" y="155.9" width="1" height="57.7" fill="#a3521b"/>
<rect x="556" y="86.2" width="1" height="48.4" fill="#008000" fill-opacity="0.34"/>
<rect x="556" y="134.6" width="1" height="21.3" fill="#00701c" fill-opacity="0.24"/>
<rect x="556" y="100.7" width="1" height="30.2" fill="#008000" fill-opacity="0.60"/>
<rect x="557" y="132.5" width="1" height="147.3" fill="#1e8cf5"/>
<rect x="557" y="157.8" width="1" height="55.5" fill="#ffffff" fill-opacity="0.60"/>
<rect x="557" y="157.8" width="1" height="55.5" fill="#a3521b" fill-opacity="0.60"/>
<rect x="557" y="87.4" width="1" height="45.4" fill="#008000" fill-opacity="0.97"/>
<rect x="557" y="132.8" width="1" height="23.3" fill="#00701c" fill-opacity="0.70"/>
<rect x="558" y="133.9" width="1" height="150.7" fill="#1e8cf5"/>
<rect x="558" y="158.3" width="1" height="56.6" fill="#ffffff" fill-opacity="0.60"/>
<rect x="558" y="158.3" width="1" height="56.6" fill="#a3521b" fill-opacity="0.60"/>
<rect x="558" y="158.3" width="1" height="7.0" fill="#4f6490" fill-opacity="0.92"/>
<rect x="558" y="87.4" width="1" height="46.8" fill="#008000" fill-opacity="0.58"/>
<rect x="558" y="134.2" width="1" height="24.1" fill="#00701c" fill-opacity="0.42"/>
<rect x="558" y="106.2" width="1" height="24.7" fill="#008000" fill-opacity="0.60"/>
<rect x="559" y="134.0" width="1" height="144.7" fill="#1e8cf5"/>
<rect x="559" y="161.5" width="1" height="51.0" fill="#ffffff" fill-opacity="0.35"/>
<rect x="559" y="161.5" width="1" height="51.0" fill="#a3521b" fill-opacity="0.35"/>
<rect x="559" y="161.5" width="1" height="10.2" fill="#4f6490" fill-opacity="0.92"/>
<rect x="559" y="95.0" width="1" height="39.4" fill="#008000" fill-opacity="0.97"/>
<rect x="559" y="134.3" width="1" height="27.0" fill="#00701c" fill-opacity="0.70"/>
<rect x="560" y="132.1" width="1" height="152.3" fill="#1e8cf5" fill-opacity="0.60"/>
<rect x="560" y="159.5" width="1" height="55.1" fill="#ffffff" fill-opacity="0.60"/>
<rect x="560" y="159.5" width="1" height="55.1" fill="#a3521b" fill-opacity="0.60"/>
<rect x="560" y="159.5" width="1" height="11.3" fill="#4f6490" fill-opacity="0.92"/>
<rect x="560" y="86.8" width="1" height="45.5" fill="#008000" fill-opacity="0.97"/>
<rect x="560" y="132.4" width="1" height="32.7" fill="#00701c" fill-opacity="0.70"/>
<rect x="561" y="134.8" width="1" height="144.8" fill="#1e8cf5"/>
<rect x="561" y="162.7" width="1" height="53.4" fill="#ffffff"/>
<rect x="561" y="162.7" width="1" height="53.4" fill="#a3521b"/>
<rect x="561" y="162.7" width="1" height="8.5" fill="#4f6490" fill-opacity="0.92"/>
<rect x="561" y="85.9" width="1" height="49.2" fill="#008000" fill-opacity="0.58"/>
<rect x="561" y="135.1" width="1" height="31.9" fill="#00701c" fill-opacity="0.42"/>
<rect x="562" y="130.5" width="1" height="149.1" fill="#1e8cf5"/>
<rect x="562" y="160.8" width="1" height="51.9" fill="#ffffff" fill-opacity="0.60"/>
<rect x="562" y="160.8" width="1" height="51.9" fill="#a3521b" fill-opacity="0.60"/>
<rect x="562" y="160.8" width="1" height="5.7" fill="#4f6490" fill-opacity="0.92"/>
<rect x="562" y="87.5" width="1" height="43.2" fill="#008000" fill-opacity="0.97"/>
<rect x="562" y="130.8" width="1" height="35.2" fill="#00701c" fill-opacity="0.70"/>
<rect x="563" y="130.8" width="1" height="150.3" fill="#1e8cf5" fill-opacity="0.60"/>
<rect x="563" y="159.1" width="1" height="57.0" fill="#ffffff" fill-opacity="0.60"/>
<rect x="563" y="159.1" width="1" height="57.0" fill="#a3521b" fill-opacity="0.60"/>
<rect x="563" y="159.1" width="1" height="12.9" fill="#4f6490" fill-opacity="0.92"/>
<rect x="563" y="212.2" width="1" height="3.9" fill="#3f72b5" fill-opacity="0.85"/>
<rect x="563" y="88.6" width="1" height="42.5" fill="#008000" fill-opacity="0.58"/>
<rect x="563" y="131.1" width="1" height="33.8" fill="#00701c" fill-opacity="0.42"/>
<rect x="564" y="131.1" width="1" height="148.0" fill="#1e8cf5"/>
<rect x="564" y="160.9" width="1" height="53.7" fill="#ffffff"/>
<rect x="564" y="160.9" width="1" height="53.7" fill="#a3521b"/>
<rect x="564" y="160.9" width="1" height="6.9" fill="#4f6490" fill-opacity="0.92"/>
<rect x="564" y="91.4" width="1" height="40.0" fill="#008000" fill-opacity="0.97"/>
<rect x="564" y="131.4" width="1" height="32.2" fill="#00701c" fill-opacity="0.70"/>
<rect x="565" y="131.3" width="1" height="151.3" fill="#1e8cf5" fill-opacity="0.60"/>
<rect x="565" y="156.1" width="1" height="56.3" fill="#ffffff"/>
<rect x="565" y="156.1" width="1" height="56.3" fill="#a3521b"/>
<rect x="565" y="156.1" width="1" height="8.1" fill="#4f6490" fill-opacity="0.92"/>
<rect x="565" y="86.0" width="1" height="45.6" fill="#008000" fill-opacity="0.34"/>
<rect x="565" y="131.6" width="1" height="33.6" fill="#00701c" fill-opacity="0.24"/>
<rect x="565" y="102.7" width="1" height="28.2" fill="#008000" fill-opacity="0.60"/>
<rect x="566" y="133.0" width="1" height="148.5" fill="#1e8cf5"/>
<rect x="566" y="161.3" width="1" height="49.3" fill="#ffffff"/>
<rect x="566" y="161.3" width="1" height="49.3" fill="#a3521b"/>
<rect x="566" y="161.3" width="1" height="5.6" fill="#4f6490" fill-opacity="0.92"/>
<rect x="566" y="87.5" width="1" height="45.8" fill="#008000" fill-opacity="0.97"/>
<rect x="566" y="133.3" width="1" height="34.4" fill="#00701c" fill-opacity="0.70"/>
<rect x="567" y="132.7" width="1" height="146.9" fill="#1e8cf5"/>
<rect x="567" y="157.0" width="1" height="56.8" fill="#ffffff"/>
<rect x="567" y="157.0" width="1" height="56.8" fill="#a3521b"/>
<rect x="567" y="157.0" width="1" height="12.3" fill="#4f6490" fill-opacity="0.92"/>
<rect x="567" y="211.1" width="1" height="2.7" fill="#3f72b5" fill-opacity="0.85"/>
<rect x="567" y="88.1" width="1" height="45.0" fill="#008000" fill-opacity="0.97"/>
<rect x="567" y="133.0" width="1" height="23.7" fill="#00701c" fill-opacity="0.70"/>
<rect x="568" y="130.0" width="1" height="151.1" fill="#1e8cf5" fill-opacity="0.60"/>
<rect x="568" y="162.6" width="1" height="53.5" fill="#ffffff" fill-opacity="0.60"/>
<rect x="568" y="162.6" width="1" height="53.5" fill="#a3521b" fill-opacity="0.60"/>
<rect x="568" y="162.6" width="1" height="8.4" fill="#4f6490" fill-opacity="0.92"/>
<rect x="568" y="86.2" width="1" height="44.1" fill="#008000" fill-opacity="0.58"/>
<rect x="568" y="130.3" width="1" height="34.4" fill="#00701c" fill-opacity="0.42"/>
<rect x="573" y="133.7" width="1" height="137.8" fill="#1e8cf5" fill-opacity="0.60"/>
<rect x="573" y="158.6" width="1" height="57.5" fill="#ffffff"/>
<rect x="573" y="158.6" width="1" height="57.5" fill="#a3521b" fill-opacity="0.48"/>
<rect x="573" y="158.6" width="1" height="6.0" fill="#5079b8" fill-opacity="0.72"/>
<rect x="573" y="207.0" width="1" height="9.1" fill="#5079b8" fill-opacity="0.72"/>
<rect x="573" y="101.6" width="1" height="32.4" fill="#008000" fill-opacity="0.54"/>
<rect x="573" y="134.0" width="1" height="33.7" fill="#00701c" fill-opacity="0.39"/>
<rect x="574" y="134.6" width="1" height="144.5" fill="#1e8cf5" fill-opacity="0.50"/>
<rect x="574" y="158.6" width="1" height="57.5" fill="#ffffff" fill-opacity="0.85"/>
<rect x="574" y="158.6" width="1" height="57.5" fill="#a3521b" fill-opacity="0.40"/>
<rect x="574" y="158.6" width="1" height="7.1" fill="#5079b8" fill-opacity="0.60"/>
<rect x="574" y="204.2" width="1" height="11.9" fill="#5079b8" fill-opacity="0.60"/>
<rect x="574" y="109.2" width="1" height="25.7" fill="#008000" fill-opacity="0.45"/>
<rect x="574" y="134.9" width="1" height="31.9" fill="#00701c" fill-opacity="0.33"/>
<rect x="575" y="130.3" width="1" height="150.4" fill="#1e8cf5" fill-opacity="0.35"/>
<rect x="575" y="158.6" width="1" height="57.5" fill="#ffffff" fill-opacity="0.60"/>
<rect x="575" y="158.6" width="1" height="57.5" fill="#a3521b" fill-opacity="0.28"/>
<rect x="575" y="158.6" width="1" height="8.9" fill="#5079b8" fill-opacity="0.42"/>
<rect x="575" y="205.4" width="1" height="10.7" fill="#5079b8" fill-opacity="0.42"/>
<rect x="575" y="102.3" width="1" height="28.3" fill="#008000" fill-opacity="0.32"/>
<rect x="575" y="130.6" width="1" height="33.0" fill="#00701c" fill-opacity="0.23"/>
<rect x="576" y="131.1" width="1" height="148.4" fill="#1e8cf5" fill-opacity="0.46"/>
<rect x="576" y="158.6" width="1" height="57.5" fill="#ffffff" fill-opacity="0.78"/>
<rect x="576" y="158.6" width="1" height="57.5" fill="#a3521b" fill-opacity="0.37"/>
<rect x="576" y="158.6" width="1" height="9.2" fill="#5079b8" fill-opacity="0.55"/>
<rect x="576" y="208.0" width="1" height="8.1" fill="#5079b8" fill-opacity="0.55"/>
<rect x="576" y="88.1" width="1" height="43.2" fill="#008000" fill-opacity="0.41"/>
<rect x="576" y="131.4" width="1" height="29.1" fill="#00701c" fill-opacity="0.30"/>
<rect x="577" y="132.2" width="1" height="148.6" fill="#1e8cf5" fill-opacity="0.39"/>
<rect x="577" y="158.6" width="1" height="57.5" fill="#ffffff" fill-opacity="0.66"/>
<rect x="577" y="158.6" width="1" height="57.5" fill="#a3521b" fill-opacity="0.31"/>
<rect x="577" y="158.6" width="1" height="7.2" fill="#5079b8" fill-opacity="0.47"/>
<rect x="577" y="207.2" width="1" height="8.9" fill="#5079b8" fill-opacity="0.47"/>
<rect x="577" y="86.5" width="1" height="46.0" fill="#008000" fill-opacity="0.35"/>
<rect x="577" y="132.5" width="1" height="30.8" fill="#00701c" fill-opacity="0.25"/>
<rect x="578" y="133.7" width="1" height="145.8" fill="#1e8cf5" fill-opacity="0.75"/>
<rect x="578" y="158.6" width="1" height="57.5" fill="#ffffff"/>
<rect x="578" y="158.6" width="1" height="57.5" fill="#a3521b" fill-opacity="0.60"/>
<rect x="578" y="158.6" width="1" height="9.7" fill="#5079b8" fill-opacity="0.90"/>
<rect x="578" y="203.1" width="1" height="13.0" fill="#5079b8" fill-opacity="0.90"/>
<rect x="578" y="91.6" width="1" height="42.4" fill="#008000" fill-opacity="0.68"/>
<rect x="578" y="134.0" width="1" height="33.5" fill="#00701c" fill-opacity="0.49"/>
<rect x="578" y="118.4" width="1" height="2.5" fill="#008000" fill-opacity="0.80"/>
<rect x="579" y="133.0" width="1" height="129.8" fill="#1e8cf5" fill-opacity="0.41"/>
<rect x="579" y="158.6" width="1" height="57.5" fill="#ffffff" fill-opacity="0.70"/>
<rect x="579" y="158.6" width="1" height="57.5" fill="#a3521b" fill-opacity="0.33"/>
<rect x="579" y="158.6" width="1" height="11.5" fill="#5079b8" fill-opacity="0.49"/>
<rect x="579" y="205.0" width="1" height="11.1" fill="#5079b8" fill-opacity="0.49"/>
<rect x="579" y="87.6" width="1" height="45.7" fill="#008000" fill-opacity="0.37"/>
<rect x="579" y="133.3" width="1" height="26.4" fill="#00701c" fill-opacity="0.27"/>
<rect x="580" y="136.9" width="1" height="128.0" fill="#1e8cf5" fill-opacity="0.45"/>
<rect x="580" y="158.6" width="1" height="57.5" fill="#ffffff" fill-opacity="0.77"/>
<rect x="580" y="158.6" width="1" height="57.5" fill="#a3521b" fill-opacity="0.36"/>
<rect x="580" y="158.6" width="1" height="6.9" fill="#5079b8" fill-opacity="0.54"/>
<rect x="580" y="204.0" width="1" height="12.1" fill="#5079b8" fill-opacity="0.54"/>
<rect x="580" y="96.5" width="1" height="40.7" fill="#008000" fill-opacity="0.41"/>
<rect x="580" y="137.2" width="1" height="28.7" fill="#00701c" fill-opacity="0.29"/>
<rect x="581" y="132.0" width="1" height="148.4" fill="#1e8cf5" fill-opacity="0.45"/>
<rect x="581" y="158.6" width="1" height="57.5" fill="#ffffff" fill-opacity="0.77"/>
<rect x="581" y="158.6" width="1" height="57.5" fill="#a3521b" fill-opacity="0.36"/>
<rect x="581" y="158.6" width="1" height="9.9" fill="#5079b8" fill-opacity="0.54"/>
<rect x="581" y="206.4" width="1" height="9.7" fill="#5079b8" fill-opacity="0.54"/>
<rect x="581" y="101.9" width="1" height="30.4" fill="#008000" fill-opacity="0.41"/>
<rect x="581" y="132.3" width="1" height="34.8" fill="#00701c" fill-opacity="0.29"/>
<rect x="581" y="125.1" width="1" height="2.5" fill="#008000" fill-opacity="0.80"/>
<rect x="583" y="134.3" width="1" height="149.6" fill="#1e8cf5" fill-opacity="0.60"/>
<rect x="583" y="156.7" width="1" height="56.7" fill="#ffffff"/>
<rect x="583" y="156.7" width="1" height="56.7" fill="#a3521b"/>
<rect x="583" y="156.7" width="1" height="10.7" fill="#4f6490" fill-opacity="0.92"/>
<rect x="583" y="207.3" width="1" height="6.1" fill="#3f72b5" fill-opacity="0.85"/>
<rect x="583" y="87.3" width="1" height="47.3" fill="#008000" fill-opacity="0.97"/>
<rect x="583" y="134.6" width="1" height="23.7" fill="#00701c" fill-opacity="0.70"/>
<rect x="584" y="135.1" width="1" height="147.8" fill="#1e8cf5" fill-opacity="0.60"/>
<rect x="584" y="160.0" width="1" height="48.5" fill="#ffffff"/>
<rect x="584" y="160.0" width="1" height="48.5" fill="#a3521b"/>
<rect x="584" y="160.0" width="1" height="6.8" fill="#4f6490" fill-opacity="0.92"/>
<rect x="584" y="208.4" width="1" height="0.1" fill="#3f72b5" fill-opacity="0.85"/>
<rect x="584" y="96.3" width="1" height="39.1" fill="#008000" fill-opacity="0.58"/>
<rect x="584" y="135.4" width="1" height="20.1" fill="#00701c" fill-opacity="0.42"/>
<rect x="584" y="123.7" width="1" height="7.2" fill="#008000" fill-opacity="0.60"/>
<rect x="585" y="131.2" width="1" height="148.8" fill="#1e8cf5" fill-opacity="0.60"/>
<rect x="585" y="160.7" width="1" height="54.5" fill="#ffffff"/>
<rect x="585" y="160.7" width="1" height="54.5" fill="#a3521b"/>
<rect x="585" y="160.7" width="1" height="12.9" fill="#4f6490" fill-opacity="0.92"/>
<rect x="585" y="212.3" width="1" height="2.8" fill="#3f72b5" fill-opacity="0.85"/>
<rect x="585" y="86.7" width="1" height="44.8" fill="#008000" fill-opacity="0.97"/>
<rect x="585" y="131.5" width="1" height="30.3" fill="#00701c" fill-opacity="0.70"/>
<rect x="586" y="133.6" width="1" height="145.5" fill="#1e8cf5"/>
<rect x="586" y="157.5" width="1" height="50.5" fill="#ffffff" fill-opacity="0.60"/>
<rect x="586" y="157.5" width="1" height="50.5" fill="#a3521b" fill-opacity="0.60"/>
<rect x="586" y="157.5" width="1" height="11.4" fill="#4f6490" fill-opacity="0.92"/>
<rect x="586" y="206.6" width="1" height="1.5" fill="#3f72b5" fill-opacity="0.85"/>
<rect x="586" y="85.5" width="1" height="48.4" fill="#008000" fill-opacity="0.97"/>
<rect x="586" y="133.9" width="1" height="30.9" fill="#00701c" fill-opacity="0.70"/>
<rect x="587" y="131.9" width="1" height="150.2" fill="#1e8cf5"/>
<rect x="587" y="159.2" width="1" height="55.3" fill="#ffffff"/>
<rect x="587" y="159.2" width="1" height="55.3" fill="#a3521b"/>
<rect x="587" y="159.2" width="1" height="7.1" fill="#4f6490" fill-opacity="0.92"/>
<rect x="587" y="213.9" width="1" height="0.5" fill="#3f72b5" fill-opacity="0.85"/>
<rect x="587" y="90.9" width="1" height="41.2" fill="#008000" fill-opacity="0.97"/>
<rect x="587" y="132.2" width="1" height="34.8" fill="#00701c" fill-opacity="0.70"/>
<rect x="588" y="134.2" width="1" height="149.7" fill="#1e8cf5"/>
<rect x="588" y="162.4" width="1" height="49.7" fill="#ffffff" fill-opacity="0.35"/>
<rect x="588" y="162.4" width="1" height="49.7" fill="#a3521b" fill-opacity="0.35"/>
<rect x="588" y="162.4" width="1" height="10.3" fill="#4f6490" fill-opacity="0.92"/>
<rect x="588" y="85.5" width="1" height="49.0" fill="#008000" fill-opacity="0.97"/>
<rect x="588" y="134.5" width="1" height="22.4" fill="#00701c" fill-opacity="0.70"/>
<rect x="589" y="128.5" width="1" height="150.4" fill="#1e8cf5"/>
<rect x="589" y="160.1" width="1" height="55.5" fill="#ffffff" fill-opacity="0.60"/>
<rect x="589" y="160.1" width="1" height="55.5" fill="#a3521b" fill-opacity="0.60"/>
<rect x="589" y="160.1" width="1" height="7.5" fill="#4f6490" fill-opacity="0.92"/>
<rect x="589" y="87.7" width="1" height="41.2" fill="#008000" fill-opacity="0.34"/>
<rect x="589" y="128.8" width="1" height="26.9" fill="#00701c" fill-opacity="0.24"/>
<rect x="589" y="111.7" width="1" height="19.2" fill="#008000" fill-opacity="0.60"/>
<rect x="590" y="136.5" width="1" height="147.0" fill="#1e8cf5" fill-opacity="0.60"/>
<rect x="590" y="155.6" width="1" height="57.8" fill="#ffffff" fill-opacity="0.60"/>
<rect x="590" y="155.6" width="1" height="57.8" fill="#a3521b" fill-opacity="0.60"/>
<rect x="590" y="155.6" width="1" height="10.6" fill="#4f6490" fill-opacity="0.92"/>
<rect x="590" y="205.6" width="1" height="7.8" fill="#3f72b5" fill-opacity="0.85"/>
<rect x="590" y="86.6" width="1" height="50.3" fill="#008000" fill-opacity="0.58"/>
<rect x="590" y="136.8" width="1" height="28.2" fill="#00701c" fill-opacity="0.42"/>
<rect x="590" y="107.2" width="1" height="23.7" fill="#008000" fill-opacity="0.60"/>
<rect x="591" y="132.8" width="1" height="146.4" fill="#1e8cf5" fill-opacity="0.60"/>
<rect x="591" y="160.3" width="1" height="55.3" fill="#ffffff"/>
<rect x="591" y="160.3" width="1" height="55.3" fill="#a3521b"/>
<rect x="591" y="160.3" width="1" height="6.7" fill="#4f6490" fill-opacity="0.92"/>
<rect x="591" y="86.3" width="1" height="46.8" fill="#008000" fill-opacity="0.58"/>
<rect x="591" y="133.1" width="1" height="32.6" fill="#00701c" fill-opacity="0.42"/>
<rect x="591" y="102.1" width="1" height="28.8" fill="#008000" fill-opacity="0.60"/>
<rect x="592" y="133.1" width="1" height="148.0" fill="#1e8cf5"/>
<rect x="592" y="156.1" width="1" height="59.5" fill="#ffffff"/>
<rect x="592" y="156.1" width="1" height="59.5" fill="#a3521b"/>
<rect x="592" y="156.1" width="1" height="11.0" fill="#4f6490" fill-opacity="0.92"/>
<rect x="592" y="207.2" width="1" height="8.4" fill="#3f72b5" fill-opacity="0.85"/>
<rect x="592" y="85.4" width="1" height="48.0" fill="#008000" fill-opacity="0.97"/>
<rect x="592" y="133.4" width="1" height="31.8" fill="#00701c" fill-opacity="0.70"/>
<rect x="593" y="137.4" width="1" height="145.4" fill="#1e8cf5" fill-opacity="0.60"/>
<rect x="593" y="155.3" width="1" height="60.8" fill="#ffffff"/>
<rect x="593" y="155.3" width="1" height="60.8" fill="#a3521b"/>
<rect x="593" y="155.3" width="1" height="10.1" fill="#4f6490" fill-opacity="0.92"/>
<rect x="593" y="90.1" width="1" height="47.6" fill="#008000" fill-opacity="0.97"/>
<rect x="593" y="137.7" width="1" height="22.4" fill="#00701c" fill-opacity="0.70"/>
<rect x="594" y="131.7" width="1" height="150.4" fill="#1e8cf5" fill-opacity="0.60"/>
<rect x="594" y="157.7" width="1" height="58.4" fill="#ffffff" fill-opacity="0.60"/>
<rect x="594" y="157.7" width="1" height="58.4" fill="#a3521b" fill-opacity="0.60"/>
<rect x="594" y="157.7" width="1" height="8.1" fill="#4f6490" fill-opacity="0.92"/>
<rect x="594" y="211.0" width="1" height="5.1" fill="#3f72b5" fill-opacity="0.85"/>
<rect x="594" y="92.7" width="1" height="39.3" fill="#008000" fill-opacity="0.34"/>
<rect x="594" y="132.0" width="1" height="35.6" fill="#00701c" fill-opacity="0.24"/>
<rect x="595" y="134.1" width="1" height="144.8" fill="#1e8cf5" fill-opacity="0.60"/>
<rect x="595" y="157.2" width="1" height="58.9" fill="#ffffff" fill-opacity="0.60"/>
<rect x="595" y="157.2" width="1" height="58.9" fill="#a3521b" fill-opacity="0.60"/>
<rect x="595" y="89.4" width="1" height="45.0" fill="#008000" fill-opacity="0.97"/>
<rect x="595" y="134.4" width="1" height="20.9" fill="#00701c" fill-opacity="0.70"/>
<rect x="596" y="136.6" width="1" height="143.4" fill="#1e8cf5"/>
<rect x="596" y="156.2" width="1" height="59.5" fill="#ffffff" fill-opacity="0.60"/>
<rect x="596" y="156.2" width="1" height="59.5" fill="#a3521b" fill-opacity="0.60"/>
<rect x="596" y="156.2" width="1" height="7.0" fill="#4f6490" fill-opacity="0.92"/>
<rect x="596" y="86.7" width="1" height="50.2" fill="#008000" fill-opacity="0.97"/>
<rect x="596" y="136.9" width="1" height="20.0" fill="#00701c" fill-opacity="0.70"/>
<rect x="597" y="136.3" width="1" height="145.8" fill="#1e8cf5"/>
<rect x="597" y="156.9" width="1" height="53.7" fill="#ffffff" fill-opacity="0.60"/>
<rect x="597" y="156.9" width="1" height="53.7" fill="#a3521b" fill-opacity="0.60"/>
<rect x="597" y="156.9" width="1" height="12.2" fill="#4f6490" fill-opacity="0.92"/>
<rect x="597" y="87.2" width="1" height="49.4" fill="#008000" fill-opacity="0.97"/>
<rect x="597" y="136.6" width="1" height="30.1" fill="#00701c" fill-opacity="0.70"/>
<rect x="598" y="132.1" width="1" height="146.7" fill="#1e8cf5"/>
<rect x="598" y="162.3" width="1" height="48.0" fill="#ffffff" fill-opacity="0.35"/>
<rect x="598" y="162.3" width="1" height="48.0" fill="#a3521b" fill-opacity="0.35"/>
<rect x="598" y="205.0" width="1" height="5.4" fill="#3f72b5" fill-opacity="0.85"/>
<rect x="598" y="94.5" width="1" height="37.9" fill="#008000" fill-opacity="0.97"/>
<rect x="598" y="132.4" width="1" height="33.0" fill="#00701c" fill-opacity="0.70"/>
<rect x="599" y="132.6" width="1" height="148.0" fill="#1e8cf5"/>
<rect x="599" y="161.9" width="1" height="53.1" fill="#ffffff"/>
<rect x="599" y="161.9" width="1" height="53.1" fill="#a3521b"/>
<rect x="599" y="161.9" width="1" height="8.7" fill="#4f6490" fill-opacity="0.92"/>
<rect x="599" y="214.0" width="1" height="1.0" fill="#3f72b5" fill-opacity="0.85"/>
<rect x="599" y="93.5" width="1" height="39.4" fill="#008000" fill-opacity="0.97"/>
<rect x="599" y="132.9" width="1" height="30.5" fill="#00701c" fill-opacity="0.70"/>
<rect x="600" y="133.0" width="1" height="146.2" fill="#1e8cf5" fill-opacity="0.60"/>
<rect x="600" y="156.6" width="1" height="56.8" fill="#ffffff" fill-opacity="0.60"/>
<rect x="600" y="156.6" width="1" height="56.8" fill="#a3521b" fill-opacity="0.60"/>
<rect x="600" y="156.6" width="1" height="8.7" fill="#4f6490" fill-opacity="0.92"/>
<rect x="600" y="91.3" width="1" height="42.1" fill="#008000" fill-opacity="0.58"/>
<rect x="600" y="133.3" width="1" height="25.7" fill="#00701c" fill-opacity="0.42"/>
<rect x="600" y="116.4" width="1" height="14.5" fill="#008000" fill-opacity="0.60"/>
<rect x="606" y="135.5" width="1" height="143.6" fill="#1e8cf5" fill-opacity="0.60"/>
<rect x="606" y="158.6" width="1" height="57.5" fill="#ffffff"/>
<rect x="606" y="158.6" width="1" height="57.5" fill="#a3521b" fill-opacity="0.48"/>
<rect x="606" y="158.6" width="1" height="5.5" fill="#5079b8" fill-opacity="0.72"/>
<rect x="606" y="206.0" width="1" height="10.1" fill="#5079b8" fill-opacity="0.72"/>
<rect x="606" y="93.4" width="1" height="42.4" fill="#008000" fill-opacity="0.54"/>
<rect x="606" y="135.8" width="1" height="31.3" fill="#00701c" fill-opacity="0.39"/>
<rect x="607" y="132.9" width="1" height="146.2" fill="#1e8cf5" fill-opacity="0.43"/>
<rect x="607" y="158.6" width="1" height="57.5" fill="#ffffff" fill-opacity="0.73"/>
<rect x="607" y="158.6" width="1" height="57.5" fill="#a3521b" fill-opacity="0.34"/>
<rect x="607" y="158.6" width="1" height="8.9" fill="#5079b8" fill-opacity="0.51"/>
<rect x="607" y="207.6" width="1" height="8.5" fill="#5079b8" fill-opacity="0.51"/>
<rect x="607" y="90.4" width="1" height="42.8" fill="#008000" fill-opacity="0.39"/>
<rect x="607" y="133.2" width="1" height="30.4" fill="#00701c" fill-opacity="0.28"/>
<rect x="608" y="131.5" width="1" height="147.8" fill="#1e8cf5" fill-opacity="0.46"/>
<rect x="608" y="158.6" width="1" height="57.5" fill="#ffffff" fill-opacity="0.78"/>
<rect x="608" y="158.6" width="1" height="57.5" fill="#a3521b" fill-opacity="0.37"/>
<rect x="608" y="158.6" width="1" height="9.1" fill="#5079b8" fill-opacity="0.55"/>
<rect x="608" y="203.8" width="1" height="12.3" fill="#5079b8" fill-opacity="0.55"/>
<rect x="608" y="91.2" width="1" height="40.6" fill="#008000" fill-opacity="0.41"/>
<rect x="608" y="131.8" width="1" height="24.0" fill="#00701c" fill-opacity="0.30"/>
<rect x="608" y="122.7" width="1" height="2.5" fill="#008000" fill-opacity="0.80"/>
<rect x="609" y="135.0" width="1" height="145.6" fill="#1e8cf5" fill-opacity="0.41"/>
<rect x="609" y="158.6" width="1" height="57.5" fill="#ffffff" fill-opacity="0.70"/>
<rect x="609" y="158.6" width="1" height="57.5" fill="#a3521b" fill-opacity="0.33"/>
<rect x="609" y="158.6" width="1" height="5.3" fill="#5079b8" fill-opacity="0.49"/>
<rect x="609" y="202.1" width="1" height="14.0" fill="#5079b8" fill-opacity="0.49"/>
<rect x="609" y="85.8" width="1" height="49.5" fill="#008000" fill-opacity="0.37"/>
<rect x="609" y="135.3" width="1" height="23.7" fill="#00701c" fill-opacity="0.27"/>
<rect x="611" y="132.3" width="1" height="146.7" fill="#1e8cf5" fill-opacity="0.42"/>
<rect x="611" y="158.6" width="1" height="57.5" fill="#ffffff" fill-opacity="0.71"/>
<rect x="611" y="158.6" width="1" height="57.5" fill="#a3521b" fill-opacity="0.34"/>
<rect x="611" y="158.6" width="1" height="10.6" fill="#5079b8" fill-opacity="0.50"/>
<rect x="611" y="205.9" width="1" height="10.2" fill="#5079b8" fill-opacity="0.50"/>
<rect x="611" y="109.4" width="1" height="23.3" fill="#008000" fill-opacity="0.38"/>
<rect x="611" y="132.6" width="1" height="27.4" fill="#00701c" fill-opacity="0.27"/>
<rect x="612" y="131.0" width="1" height="136.1" fill="#1e8cf5" fill-opacity="0.50"/>
<rect x="612" y="158.6" width="1" height="57.5" fill="#ffffff" fill-opacity="0.85"/>
<rect x="612" y="158.6" width="1" height="57.5" fill="#a3521b" fill-opacity="0.40"/>
<rect x="612" y="158.6" width="1" height="5.5" fill="#5079b8" fill-opacity="0.60"/>
<rect x="612" y="202.7" width="1" height="13.4" fill="#5079b8" fill-opacity="0.60"/>
<rect x="612" y="87.3" width="1" height="44.1" fill="#008000" fill-opacity="0.45"/>
<rect x="612" y="131.3" width="1" height="29.8" fill="#00701c" fill-opacity="0.33"/>
<rect x="612" y="128.0" width="1" height="2.5" fill="#008000" fill-opacity="0.80"/>
<rect x="613" y="131.8" width="1" height="128.4" fill="#1e8cf5" fill-opacity="0.44"/>
<rect x="613" y="158.6" width="1" height="57.5" fill="#ffffff" fill-opacity="0.75"/>
<rect x="613" y="158.6" width="1" height="57.5" fill="#a3521b" fill-opacity="0.35"/>
<rect x="613" y="158.6" width="1" height="6.5" fill="#5079b8" fill-opacity="0.53"/>
<rect x="613" y="206.9" width="1" height="9.2" fill="#5079b8" fill-opacity="0.53"/>
<rect x="613" y="106.9" width="1" height="25.3" fill="#008000" fill-opacity="0.40"/>
<rect x="613" y="132.1" width="1" height="28.7" fill="#00701c" fill-opacity="0.29"/>
<rect x="614" y="134.5" width="1" height="144.4" fill="#1e8cf5" fill-opacity="0.36"/>
<rect x="614" y="158.6" width="1" height="57.5" fill="#ffffff" fill-opacity="0.61"/>
<rect x="614" y="158.6" width="1" height="57.5" fill="#a3521b" fill-opacity="0.29"/>
<rect x="614" y="158.6" width="1" height="7.6" fill="#5079b8" fill-opacity="0.43"/>
<rect x="614" y="202.9" width="1" height="13.2" fill="#5079b8" fill-opacity="0.43"/>
<rect x="614" y="103.0" width="1" height="31.7" fill="#008000" fill-opacity="0.32"/>
<rect x="614" y="134.8" width="1" height="22.7" fill="#00701c" fill-opacity="0.23"/>
<rect x="615" y="137.5" width="1" height="126.6" fill="#1e8cf5" fill-opacity="0.37"/>
<rect x="615" y="158.6" width="1" height="57.5" fill="#ffffff" fill-opacity="0.63"/>
<rect x="615" y="158.6" width="1" height="57.5" fill="#a3521b" fill-opacity="0.30"/>
<rect x="615" y="158.6" width="1" height="6.1" fill="#5079b8" fill-opacity="0.45"/>
<rect x="615" y="208.1" width="1" height="8.0" fill="#5079b8" fill-opacity="0.45"/>
<rect x="615" y="102.5" width="1" height="35.3" fill="#008000" fill-opacity="0.33"/>
<rect x="615" y="137.8" width="1" height="18.4" fill="#00701c" fill-opacity="0.24"/>
<rect x="616" y="134.3" width="1" height="145.1" fill="#1e8cf5" fill-opacity="0.60"/>
<rect x="616" y="157.2" width="1" height="55.2" fill="#ffffff" fill-opacity="0.35"/>
<rect x="616" y="157.2" width="1" height="55.2" fill="#a3521b" fill-opacity="0.35"/>
<rect x="616" y="157.2" width="1" height="7.9" fill="#4f6490" fill-opacity="0.92"/>
<rect x="616" y="87.2" width="1" height="47.4" fill="#008000" fill-opacity="0.97"/>
<rect x="616" y="134.6" width="1" height="27.8" fill="#00701c" fill-opacity="0.70"/>
<rect x="617" y="134.6" width="1" height="147.2" fill="#1e8cf5"/>
<rect x="617" y="160.0" width="1" height="54.2" fill="#ffffff" fill-opacity="0.60"/>
<rect x="617" y="160.0" width="1" height="54.2" fill="#a3521b" fill-opacity="0.60"/>
<rect x="617" y="160.0" width="1" height="8.9" fill="#4f6490" fill-opacity="0.92"/>
<rect x="617" y="207.9" width="1" height="6.4" fill="#3f72b5" fill-opacity="0.85"/>
<rect x="617" y="88.3" width="1" height="46.7" fill="#008000" fill-opacity="0.97"/>
<rect x="617" y="134.9" width="1" height="27.8" fill="#00701c" fill-opacity="0.70"/>
<rect x="618" y="135.0" width="1" height="144.2" fill="#1e8cf5"/>
<rect x="618" y="160.4" width="1" height="49.7" fill="#ffffff" fill-opacity="0.60"/>
<rect x="618" y="160.4" width="1" height="49.7" fill="#a3521b" fill-opacity="0.60"/>
<rect x="618" y="160.4" width="1" height="9.1" fill="#4f6490" fill-opacity="0.92"/>
<rect x="618" y="88.0" width="1" height="47.3" fill="#008000" fill-opacity="0.34"/>
<rect x="618" y="135.3" width="1" height="29.5" fill="#00701c" fill-opacity="0.24"/>
<rect x="618" y="117.8" width="1" height="13.1" fill="#008000" fill-opacity="0.60"/>
<rect x="619" y="131.5" width="1" height="151.3" fill="#1e8cf5" fill-opacity="0.35"/>
<rect x="619" y="160.4" width="1" height="50.7" fill="#ffffff"/>
<rect x="619" y="160.4" width="1" height="50.7" fill="#a3521b"/>
<rect x="619" y="160.4" width="1" height="11.3" fill="#4f6490" fill-opacity="0.92"/>
<rect x="619" y="86.0" width="1" height="45.8" fill="#008000" fill-opacity="0.97"/>
<rect x="619" y="131.8" width="1" height="35.6" fill="#00701c" fill-opacity="0.70"/>
<rect x="620" y="137.3" width="1" height="141.5" fill="#1e8cf5"/>
<rect x="620" y="157.2" width="1" height="56.1" fill="#ffffff" fill-opacity="0.35"/>
<rect x="620" y="157.2" width="1" height="56.1" fill="#a3521b" fill-opacity="0.35"/>
<rect x="620" y="157.2" width="1" height="10.4" fill="#4f6490" fill-opacity="0.92"/>
<rect x="620" y="88.9" width="1" height="48.6" fill="#008000" fill-opacity="0.58"/>
<rect x="620" y="137.6" width="1" height="20.4" fill="#00701c" fill-opacity="0.42"/>
<rect x="620" y="117.7" width="1" height="13.2" fill="#008000" fill-opacity="0.60"/>
<rect x="621" y="133.4" width="1" height="147.3" fill="#1e8cf5"/>
<rect x="621" y="158.6" width="1" height="52.8" fill="#ffffff"/>
<rect x="621" y="158.6" width="1" height="52.8" fill="#a3521b"/>
<rect x="621" y="158.6" width="1" height="5.9" fill="#4f6490" fill-opacity="0.92"/>
<rect x="621" y="93.1" width="1" height="40.6" fill="#008000" fill-opacity="0.97"/>
<rect x="621" y="133.7" width="1" height="22.5" fill="#00701c" fill-opacity="0.70"/>
<rect x="622" y="136.9" width="1" height="142.0" fill="#1e8cf5"/>
<rect x="622" y="160.0" width="1" height="56.1" fill="#ffffff"/>
<rect x="622" y="160.0" width="1" height="56.1" fill="#a3521b"/>
<rect x="622" y="160.0" width="1" height="12.4" fill="#4f6490" fill-opacity="0.92"/>
<rect x="622" y="91.6" width="1" height="45.5" fill="#008000" fill-opacity="0.97"/>
<rect x="622" y="137.2" width="1" height="20.9" fill="#00701c" fill-opacity="0.70"/>
<rect x="623" y="130.7" width="1" height="148.3" fill="#1e8cf5" fill-opacity="0.60"/>
<rect x="623" y="158.9" width="1" height="56.8" fill="#ffffff"/>
<rect x="623" y="158.9" width="1" height="56.8" fill="#a3521b"/>
<rect x="623" y="158.9" width="1" height="9.6" fill="#4f6490" fill-opacity="0.92"/>
<rect x="623" y="86.6" width="1" height="44.4" fill="#008000" fill-opacity="0.97"/>
<rect x="623" y="131.0" width="1" height="30.8" fill="#00701c" fill-opacity="0.70"/>
<rect x="624" y="135.9" width="1" height="144.4" fill="#1e8cf5"/>
<rect x="624" y="156.5" width="1" height="59.5" fill="#ffffff" fill-opacity="0.60"/>
<rect x="624" y="156.5" width="1" height="59.5" fill="#a3521b" fill-opacity="0.60"/>
<rect x="624" y="156.5" width="1" height="10.7" fill="#4f6490" fill-opacity="0.92"/>
<rect x="624" y="93.1" width="1" height="43.1" fill="#008000" fill-opacity="0.34"/>
<rect x="624" y="136.2" width="1" height="19.3" fill="#00701c" fill-opacity="0.24"/>
<rect x="625" y="133.0" width="1" height="145.9" fill="#1e8cf5"/>
<rect x="625" y="158.6" width="1" height="53.8" fill="#ffffff"/>
<rect x="625" y="158.6" width="1" height="53.8" fill="#a3521b"/>
<rect x="625" y="158.6" width="1" height="6.2" fill="#4f6490" fill-opacity="0.92"/>
<rect x="625" y="95.2" width="1" height="38.1" fill="#008000" fill-opacity="0.97"/>
<rect x="625" y="133.3" width="1" height="33.4" fill="#00701c" fill-opacity="0.70"/>
<rect x="626" y="131.7" width="1" height="150.6" fill="#1e8cf5"/>
<rect x="626" y="157.6" width="1" height="52.6" fill="#ffffff"/>
<rect x="626" y="157.6" width="1" height="52.6" fill="#a3521b"/>
<rect x="626" y="157.6" width="1" height="12.6" fill="#4f6490" fill-opacity="0.92"/>
<rect x="626" y="85.7" width="1" height="46.3" fill="#008000" fill-opacity="0.58"/>
<rect x="626" y="132.0" width="1" height="26.6" fill="#00701c" fill-opacity="0.42"/>
<rect x="626" y="103.8" width="1" height="27.1" fill="#008000" fill-opacity="0.60"/>
<rect x="627" y="131.8" width="1" height="148.4" fill="#1e8cf5"/>
<rect x="627" y="160.7" width="1" height="55.4" fill="#ffffff"/>
<rect x="627" y="160.7" width="1" height="55.4" fill="#a3521b"/>
<rect x="627" y="160.7" width="1" height="12.0" fill="#4f6490" fill-opacity="0.92"/>
<rect x="627" y="208.8" width="1" height="7.3" fill="#3f72b5" fill-opacity="0.85"/>
<rect x="627" y="93.5" width="1" height="38.6" fill="#008000" fill-opacity="0.97"/>
<rect x="627" y="132.1" width="1" height="28.9" fill="#00701c" fill-opacity="0.70"/>
<rect x="628" y="130.1" width="1" height="149.6" fill="#1e8cf5"/>
<rect x="628" y="156.8" width="1" height="59.3" fill="#ffffff" fill-opacity="0.60"/>
<rect x="628" y="156.8" width="1" height="59.3" fill="#a3521b" fill-opacity="0.60"/>
<rect x="628" y="156.8" width="1" height="8.6" fill="#4f6490" fill-opacity="0.92"/>
<rect x="628" y="96.3" width="1" height="34.1" fill="#008000" fill-opacity="0.58"/>
<rect x="628" y="130.4" width="1" height="31.1" fill="#00701c" fill-opacity="0.42"/>
<rect x="628" y="116.5" width="1" height="14.4" fill="#008000" fill-opacity="0.60"/>
<rect x="629" y="131.4" width="1" height="148.2" fill="#1e8cf5" fill-opacity="0.35"/>
<rect x="629" y="161.9" width="1" height="54.2" fill="#ffffff"/>
<rect x="629" y="161.9" width="1" height="54.2" fill="#a3521b"/>
<rect x="629" y="88.8" width="1" height="42.9" fill="#008000" fill-opacity="0.97"/>
<rect x="629" y="131.7" width="1" height="27.8" fill="#00701c" fill-opacity="0.70"/>
<rect x="630" y="136.7" width="1" height="142.9" fill="#1e8cf5"/>
<rect x="630" y="158.8" width="1" height="57.3" fill="#ffffff"/>
<rect x="630" y="158.8" width="1" height="57.3" fill="#a3521b"/>
<rect x="630" y="158.8" width="1" height="9.2" fill="#4f6490" fill-opacity="0.92"/>
<rect x="630" y="87.7" width="1" height="49.3" fill="#008000" fill-opacity="0.97"/>
<rect x="630" y="137.0" width="1" height="21.9" fill="#00701c" fill-opacity="0.70"/>
<rect x="631" y="137.5" width="1" height="144.5" fill="#1e8cf5"/>
<rect x="631" y="160.3" width="1" height="55.8" fill="#ffffff"/>
<rect x="631" y="160.3" width="1" height="55.8" fill="#a3521b"/>
<rect x="631" y="160.3" width="1" height="12.5" fill="#4f6490" fill-opacity="0.92"/>
<rect x="631" y="96.2" width="1" height="41.6" fill="#008000" fill-opacity="0.97"/>
<rect x="631" y="137.8" width="1" height="19.2" fill="#00701c" fill-opacity="0.70"/>
<rect x="632" y="135.1" width="1" height="144.5" fill="#1e8cf5" fill-opacity="0.60"/>
<rect x="632" y="158.9" width="1" height="57.2" fill="#ffffff" fill-opacity="0.60"/>
<rect x="632" y="158.9" width="1" height="57.2" fill="#a3521b" fill-opacity="0.60"/>
<rect x="632" y="215.1" width="1" height="1.0" fill="#3f72b5" fill-opacity="0.85"/>
<rect x="632" y="96.5" width="1" height="38.9" fill="#008000" fill-opacity="0.58"/>
<rect x="632" y="135.4" width="1" height="32.3" fill="#00701c" fill-opacity="0.42"/>
<rect x="632" y="126.9" width="1" height="4.0" fill="#008000" fill-opacity="0.60"/>
<rect x="638" y="133.9" width="1" height="148.3" fill="#1e8cf5" fill-opacity="0.60"/>
<rect x="638" y="158.6" width="1" height="57.5" fill="#ffffff"/>
<rect x="638" y="158.6" width="1" height="57.5" fill="#a3521b" fill-opacity="0.48"/>
<rect x="638" y="158.6" width="1" height="11.1" fill="#5079b8" fill-opacity="0.72"/>
<rect x="638" y="203.4" width="1" height="12.7" fill="#5079b8" fill-opacity="0.72"/>
<rect x="638" y="95.4" width="1" height="38.7" fill="#008000" fill-opacity="0.54"/>
<rect x="638" y="134.2" width="1" height="29.5" fill="#00701c" fill-opacity="0.39"/>
<rect x="640" y="131.4" width="1" height="139.3" fill="#1e8cf5" fill-opacity="0.39"/>
<rect x="640" y="158.6" width="1" height="57.5" fill="#ffffff" fill-opacity="0.67"/>
<rect x="640" y="158.6" width="1" height="57.5" fill="#a3521b" fill-opacity="0.31"/>
<rect x="640" y="158.6" width="1" height="5.9" fill="#5079b8" fill-opacity="0.47"/>
<rect x="640" y="207.3" width="1" height="8.8" fill="#5079b8" fill-opacity="0.47"/>
<rect x="640" y="87.5" width="1" height="44.2" fill="#008000" fill-opacity="0.35"/>
<rect x="640" y="131.7" width="1" height="26.2" fill="#00701c" fill-opacity="0.25"/>
<rect x="641" y="129.6" width="1" height="144.8" fill="#1e8cf5" fill-opacity="0.47"/>
<rect x="641" y="158.6" width="1" height="57.5" fill="#ffffff" fill-opacity="0.80"/>
<rect x="641" y="158.6" width="1" height="57.5" fill="#a3521b" fill-opacity="0.38"/>
<rect x="641" y="158.6" width="1" height="9.6" fill="#5079b8" fill-opacity="0.57"/>
<rect x="641" y="206.3" width="1" height="9.8" fill="#5079b8" fill-opacity="0.57"/>
<rect x="641" y="94.0" width="1" height="35.9" fill="#008000" fill-opacity="0.42"/>
<rect x="641" y="129.9" width="1" height="31.2" fill="#00701c" fill-opacity="0.31"/>
<rect x="641" y="127.1" width="1" height="2.5" fill="#008000" fill-opacity="0.80"/>
<rect x="642" y="137.1" width="1" height="128.0" fill="#1e8cf5" fill-opacity="0.38"/>
<rect x="642" y="158.6" width="1" height="57.5" fill="#ffffff" fill-opacity="0.65"/>
<rect x="642" y="158.6" width="1" height="57.5" fill="#a3521b" fill-opacity="0.31"/>
<rect x="642" y="158.6" width="1" height="9.0" fill="#5079b8" fill-opacity="0.46"/>
<rect x="642" y="207.6" width="1" height="8.5" fill="#5079b8" fill-opacity="0.46"/>
<rect x="642" y="95.0" width="1" height="42.4" fill="#008000" fill-opacity="0.35"/>
<rect x="642" y="137.4" width="1" height="20.5" fill="#00701c" fill-opacity="0.25"/>
<rect x="643" y="131.0" width="1" height="148.3" fill="#1e8cf5" fill-opacity="0.46"/>
<rect x="643" y="158.6" width="1" height="57.5" fill="#ffffff" fill-opacity="0.78"/>
<rect x="643" y="158.6" width="1" height="57.5" fill="#a3521b" fill-opacity="0.37"/>
<rect x="643" y="158.6" width="1" height="9.1" fill="#5079b8" fill-opacity="0.55"/>
<rect x="643" y="208.0" width="1" height="8.1" fill="#5079b8" fill-opacity="0.55"/>
<rect x="643" y="112.3" width="1" height="19.0" fill="#008000" fill-opacity="0.41"/>
<rect x="643" y="131.3" width="1" height="24.4" fill="#00701c" fill-opacity="0.30"/>
<rect x="644" y="129.7" width="1" height="153.3" fill="#1e8cf5" fill-opacity="0.53"/>
<rect x="644" y="158.6" width="1" height="57.5" fill="#ffffff" fill-opacity="0.89"/>
<rect x="644" y="158.6" width="1" height="57.5" fill="#a3521b" fill-opacity="0.42"/>
<rect x="644" y="158.6" width="1" height="7.2" fill="#5079b8" fill-opacity="0.63"/>
<rect x="644" y="202.8" width="1" height="13.3" fill="#5079b8" fill-opacity="0.63"/>
<rect x="644" y="96.4" width="1" height="33.6" fill="#008000" fill-opacity="0.47"/>
<rect x="644" y="130.0" width="1" height="33.2" fill="#00701c" fill-opacity="0.34"/>
<rect x="644" y="110.4" width="1" height="2.5" fill="#008000" fill-opacity="0.80"/>
<rect x="645" y="130.4" width="1" height="129.1" fill="#1e8cf5" fill-opacity="0.75"/>
<rect x="645" y="158.6" width="1" height="57.5" fill="#ffffff"/>
<rect x="645" y="158.6" width="1" height="57.5" fill="#a3521b" fill-opacity="0.60"/>
<rect x="645" y="158.6" width="1" height="10.7" fill="#5079b8" fill-opacity="0.90"/>
<rect x="645" y="205.1" width="1" height="11.0" fill="#5079b8" fill-opacity="0.90"/>
<rect x="645" y="86.6" width="1" height="44.1" fill="#008000" fill-opacity="0.68"/>
<rect x="645" y="130.7" width="1" height="30.5" fill="#00701c" fill-opacity="0.49"/>
<rect x="647" y="131.8" width="1" height="151.5" fill="#1e8cf5" fill-opacity="0.36"/>
<rect x="647" y="158.6" width="1" height="57.5" fill="#ffffff" fill-opacity="0.60"/>
<rect x="647" y="158.6" width="1" height="57.5" fill="#a3521b" fill-opacity="0.28"/>
<rect x="647" y="158.6" width="1" height="9.4" fill="#5079b8" fill-opacity="0.43"/>
<rect x="647" y="204.8" width="1" height="11.3" fill="#5079b8" fill-opacity="0.43"/>
<rect x="647" y="85.9" width="1" height="46.1" fill="#008000" fill-opacity="0.32"/>
<rect x="647" y="132.1" width="1" height="30.0" fill="#00701c" fill-opacity="0.23"/>
<rect x="648" y="131.1" width="1" height="153.3" fill="#1e8cf5" fill-opacity="0.43"/>
<rect x="648" y="158.6" width="1" height="57.5" fill="#ffffff" fill-opacity="0.74"/>
<rect x="648" y="158.6" width="1" height="57.5" fill="#a3521b" fill-opacity="0.35"/>
<rect x="648" y="158.6" width="1" height="8.9" fill="#5079b8" fill-opacity="0.52"/>
<rect x="648" y="208.1" width="1" height="8.0" fill="#5079b8" fill-opacity="0.52"/>
<rect x="648" y="87.8" width="1" height="43.6" fill="#008000" fill-opacity="0.39"/>
<rect x="648" y="131.4" width="1" height="33.9" fill="#00701c" fill-opacity="0.28"/>
<rect x="648" y="108.6" width="1" height="2.5" fill="#008000" fill-opacity="0.80"/>
<rect x="649" y="131.0" width="1" height="148.8" fill="#1e8cf5"/>
<rect x="649" y="158.1" width="1" height="57.6" fill="#ffffff" fill-opacity="0.60"/>
<rect x="649" y="158.1" width="1" height="57.6" fill="#a3521b" fill-opacity="0.60"/>
<rect x="649" y="158.1" width="1" height="8.8" fill="#4f6490" fill-opacity="0.92"/>
<rect x="649" y="87.2" width="1" height="44.1" fill="#008000" fill-opacity="0.58"/>
<rect x="649" y="131.3" width="1" height="25.4" fill="#00701c" fill-opacity="0.42"/>
<rect x="649" y="108.9" width="1" height="22.0" fill="#008000" fill-opacity="0.60"/>
<rect x="650" y="137.3" width="1" height="141.7" fill="#1e8cf5"/>
<rect x="650" y="158.9" width="1" height="49.7" fill="#ffffff"/>
<rect x="650" y="158.9" width="1" height="49.7" fill="#a3521b"/>
<rect x="650" y="207.2" width="1" height="1.5" fill="#3f72b5" fill-opacity="0.85"/>
<rect x="650" y="90.3" width="1" height="47.3" fill="#008000" fill-opacity="0.97"/>
<rect x="650" y="137.6" width="1" height="22.9" fill="#00701c" fill-opacity="0.70"/>
<rect x="651" y="133.3" width="1" height="149.6" fill="#1e8cf5" fill-opacity="0.35"/>
<rect x="651" y="159.9" width="1" height="49.2" fill="#ffffff"/>
<rect x="651" y="159.9" width="1" height="49.2" fill="#a3521b"/>
<rect x="651" y="159.9" width="1" height="9.0" fill="#4f6490" fill-opacity="0.92"/>
<rect x="651" y="204.3" width="1" height="4.9" fill="#3f72b5" fill-opacity="0.85"/>
<rect x="651" y="92.2" width="1" height="41.3" fill="#008000" fill-opacity="0.97"/>
<rect x="651" y="133.6" width="1" height="33.2" fill="#00701c" fill-opacity="0.70"/>
<rect x="652" y="131.4" width="1" height="147.7" fill="#1e8cf5"/>
<rect x="652" y="156.5" width="1" height="54.7" fill="#ffffff" fill-opacity="0.60"/>
<rect x="652" y="156.5" width="1" height="54.7" fill="#a3521b" fill-opacity="0.60"/>
<rect x="652" y="156.5" width="1" height="7.0" fill="#4f6490" fill-opacity="0.92"/>
<rect x="652" y="87.0" width="1" height="44.6" fill="#008000" fill-opacity="0.97"/>
<rect x="652" y="131.7" width="1" height="29.2" fill="#00701c" fill-opacity="0.70"/>
<rect x="653" y="134.3" width="1" height="149.4" fill="#1e8cf5"/>
<rect x="653" y="156.5" width="1" height="58.7" fill="#ffffff"/>
<rect x="653" y="156.5" width="1" height="58.7" fill="#a3521b"/>
<rect x="653" y="156.5" width="1" height="12.8" fill="#4f6490" fill-opacity="0.92"/>
<rect x="653" y="95.1" width="1" height="39.5" fill="#008000" fill-opacity="0.34"/>
<rect x="653" y="134.6" width="1" height="24.2" fill="#00701c" fill-opacity="0.24"/>
<rect x="654" y="134.6" width="1" height="145.6" fill="#1e8cf5"/>
<rect x="654" y="156.8" width="1" height="57.3" fill="#ffffff" fill-opacity="0.60"/>
<rect x="654" y="156.8" width="1" height="57.3" fill="#a3521b" fill-opacity="0.60"/>
<rect x="654" y="156.8" width="1" height="12.3" fill="#4f6490" fill-opacity="0.92"/>
<rect x="654" y="88.8" width="1" height="46.1" fill="#008000" fill-opacity="0.58"/>
<rect x="654" y="134.9" width="1" height="24.5" fill="#00701c" fill-opacity="0.42"/>
<rect x="654" y="122.6" width="1" height="8.3" fill="#008000" fill-opacity="0.60"/>
<rect x="655" y="137.6" width="1" height="142.1" fill="#1e8cf5"/>
<rect x="655" y="156.2" width="1" height="59.2" fill="#ffffff"/>
<rect x="655" y="156.2" width="1" height="59.2" fill="#a3521b"/>
<rect x="655" y="156.2" width="1" height="11.3" fill="#4f6490" fill-opacity="0.92"/>
<rect x="655" y="96.3" width="1" height="41.6" fill="#008000" fill-opacity="0.34"/>
<rect x="655" y="137.9" width="1" height="21.9" fill="#00701c" fill-opacity="0.24"/>
<rect x="655" y="117.3" width="1" height="13.6" fill="#008000" fill-opacity="0.60"/>
<rect x="656" y="135.4" width="1" height="143.7" fill="#1e8cf5"/>
<rect x="656" y="160.4" width="1" height="54.5" fill="#ffffff"/>
<rect x="656" y="160.4" width="1" height="54.5" fill="#a3521b"/>
<rect x="656" y="160.4" width="1" height="6.5" fill="#4f6490" fill-opacity="0.92"/>
<rect x="656" y="96.3" width="1" height="39.3" fill="#008000" fill-opacity="0.97"/>
<rect x="656" y="135.7" width="1" height="28.1" fill="#00701c" fill-opacity="0.70"/>
<rect x="657" y="137.5" width="1" height="142.1" fill="#1e8cf5" fill-opacity="0.35"/>
<rect x="657" y="158.8" width="1" height="57.1" fill="#ffffff"/>
<rect x="657" y="158.8" width="1" height="57.1" fill="#a3521b"/>
<rect x="657" y="158.8" width="1" height="5.3" fill="#4f6490" fill-opacity="0.92"/>
<rect x="657" y="86.9" width="1" height="50.9" fill="#008000" fill-opacity="0.34"/>
<rect x="657" y="137.8" width="1" height="20.7" fill="#00701c" fill-opacity="0.24"/>
<rect x="657" y="103.9" width="1" height="27.0" fill="#008000" fill-opacity="0.60"/>
<rect x="658" y="133.3" width="1" height="145.7" fill="#1e8cf5"/>
<rect x="658" y="159.7" width="1" height="53.7" fill="#ffffff"/>
<rect x="658" y="159.7" width="1" height="53.7" fill="#a3521b"/>
<rect x="658" y="159.7" width="1" height="8.8" fill="#4f6490" fill-opacity="0.92"/>
<rect x="658" y="87.0" width="1" height="46.6" fill="#008000" fill-opacity="0.58"/>
<rect x="658" y="133.6" width="1" height="25.6" fill="#00701c" fill-opacity="0.42"/>
<rect x="659" y="134.6" width="1" height="144.5" fill="#1e8cf5" fill-opacity="0.60"/>
<rect x="659" y="157.0" width="1" height="59.1" fill="#ffffff" fill-opacity="0.35"/>
<rect x="659" y="157.0" width="1" height="59.1" fill="#a3521b" fill-opacity="0.35"/>
<rect x="659" y="157.0" width="1" height="6.2" fill="#4f6490" fill-opacity="0.92"/>
<rect x="659" y="86.2" width="1" height="48.7" fill="#008000" fill-opacity="0.97"/>
<rect x="659" y="134.9" width="1" height="23.8" fill="#00701c" fill-opacity="0.70"/>
<rect x="660" y="131.3" width="1" height="148.0" fill="#1e8cf5" fill-opacity="0.60"/>
<rect x="660" y="162.4" width="1" height="48.0" fill="#ffffff" fill-opacity="0.60"/>
<rect x="660" y="162.4" width="1" height="48.0" fill="#a3521b" fill-opacity="0.60"/>
<rect x="660" y="162.4" width="1" height="7.2" fill="#4f6490" fill-opacity="0.92"/>
<rect x="660" y="87.9" width="1" height="43.7" fill="#008000" fill-opacity="0.97"/>
<rect x="660" y="131.6" width="1" height="30.9" fill="#00701c" fill-opacity="0.70"/>
<rect x="661" y="132.5" width="1" height="147.1" fill="#1e8cf5" fill-opacity="0.60"/>
<rect x="661" y="162.4" width="1" height="53.7" fill="#ffffff"/>
<rect x="661" y="162.4" width="1" height="53.7" fill="#a3521b"/>
<rect x="661" y="162.4" width="1" height="5.1" fill="#4f6490" fill-opacity="0.92"/>
<rect x="661" y="212.8" width="1" height="3.3" fill="#3f72b5" fill-opacity="0.85"/>
<rect x="661" y="88.0" width="1" height="44.9" fill="#008000" fill-opacity="0.97"/>
<rect x="661" y="132.8" width="1" height="22.9" fill="#00701c" fill-opacity="0.70"/>
<rect x="662" y="131.7" width="1" height="152.9" fill="#1e8cf5"/>
<rect x="662" y="159.7" width="1" height="53.1" fill="#ffffff" fill-opacity="0.60"/>
<rect x="662" y="159.7" width="1" height="53.1" fill="#a3521b" fill-opacity="0.60"/>
<rect x="662" y="159.7" width="1" height="12.1" fill="#4f6490" fill-opacity="0.92"/>
<rect x="662" y="206.1" width="1" height="6.7" fill="#3f72b5" fill-opacity="0.85"/>
<rect x="662" y="92.1" width="1" height="39.9" fill="#008000" fill-opacity="0.58"/>
<rect x="662" y="132.0" width="1" height="31.3" fill="#00701c" fill-opacity="0.42"/>
<rect x="662" y="114.5" width="1" height="16.4" fill="#008000" fill-opacity="0.60"/>
<rect x="663" y="134.0" width="1" height="149.3" fill="#1e8cf5" fill-opacity="0.60"/>
<rect x="663" y="160.0" width="1" height="56.1" fill="#ffffff"/>
<rect x="663" y="160.0" width="1" height="56.1" fill="#a3521b"/>
<rect x="663" y="91.7" width="1" height="42.6" fill="#008000" fill-opacity="0.97"/>
<rect x="663" y="134.3" width="1" height="25.1" fill="#00701c" fill-opacity="0.70"/>
<rect x="664" y="135.5" width="1" height="144.1" fill="#1e8cf5"/>
<rect x="664" y="156.9" width="1" height="59.2" fill="#ffffff"/>
<rect x="664" y="156.9" width="1" height="59.2" fill="#a3521b"/>
<rect x="664" y="156.9" width="1" height="12.8" fill="#4f6490" fill-opacity="0.92"/>
<rect x="664" y="88.4" width="1" height="47.3" fill="#008000" fill-opacity="0.97"/>
<rect x="664" y="135.8" width="1" height="26.9" fill="#00701c" fill-opacity="0.70"/>
<rect x="665" y="135.1" width="1" height="146.0" fill="#1e8cf5" fill-opacity="0.60"/>
<rect x="665" y="158.4" width="1" height="57.7" fill="#ffffff" fill-opacity="0.60"/>
<rect x="665" y="158.4" width="1" height="57.7" fill="#a3521b" fill-opacity="0.60"/>
<rect x="665" y="158.4" width="1" height="11.7" fill="#4f6490" fill-opacity="0.92"/>
<rect x="665" y="94.4" width="1" height="41.0" fill="#008000" fill-opacity="0.58"/>
<rect x="665" y="135.4" width="1" height="22.8" fill="#00701c" fill-opacity="0.42"/></g>
<rect x="385.5" y="55.6" width="383.0" height="255.70000000000002" fill="none" stroke="#757575" stroke-width="1"/>
<path d="M391.88 55.6v1.6M391.88 311.3v-1.8M406.14 55.6v1.6M406.14 311.3v-1.8M420.40 55.6v2.6M420.40 311.3v2.5M420.40 311.3v-2M434.66 55.6v1.6M434.66 311.3v-1.8M448.92 55.6v1.6M448.92 311.3v-1.8M463.19 55.6v1.6M463.19 311.3v-1.8M477.45 55.6v2.6M477.45 311.3v2.5M477.45 311.3v-2M491.71 55.6v1.6M491.71 311.3v-1.8M505.97 55.6v1.6M505.97 311.3v-1.8M520.24 55.6v1.6M520.24 311.3v-1.8M534.50 55.6v2.6M534.50 311.3v2.5M534.50 311.3v-2M548.76 55.6v1.6M548.76 311.3v-1.8M563.02 55.6v1.6M563.02 311.3v-1.8M577.29 55.6v1.6M577.29 311.3v-1.8M591.55 55.6v2.6M591.55 311.3v2.5M591.55 311.3v-2M605.81 55.6v1.6M605.81 311.3v-1.8M620.07 55.6v1.6M620.07 311.3v-1.8M634.34 55.6v1.6M634.34 311.3v-1.8M648.60 55.6v2.6M648.60 311.3v2.5M648.60 311.3v-2M662.86 55.6v1.6M662.86 311.3v-1.8M677.12 55.6v1.6M677.12 311.3v-1.8M691.39 55.6v1.6M691.39 311.3v-1.8M705.65 55.6v2.6M705.65 311.3v2.5M705.65 311.3v-2M719.91 55.6v1.6M719.91 311.3v-1.8M734.17 55.6v1.6M734.17 311.3v-1.8M748.44 55.6v1.6M748.44 311.3v-1.8M762.70 55.6v2.6M762.70 311.3v2.5M762.70 311.3v-2M385.50 62.74h1.8M768.50 62.74h-1.8M385.50 71.26h1.8M768.50 71.26h-1.8M385.50 79.78h1.8M768.50 79.78h-1.8M382.90 88.30h4.6M768.50 88.30h-2M385.50 96.82h1.8M768.50 96.82h-1.8M385.50 105.34h1.8M768.50 105.34h-1.8M385.50 113.86h1.8M768.50 113.86h-1.8M385.50 122.38h1.8M768.50 122.38h-1.8M382.90 130.90h4.6M768.50 130.90h-2M385.50 139.42h1.8M768.50 139.42h-1.8M385.50 147.94h1.8M768.50 147.94h-1.8M385.50 156.46h1.8M768.50 156.46h-1.8M385.50 164.98h1.8M768.50 164.98h-1.8M382.90 173.50h4.6M768.50 173.50h-2M385.50 182.02h1.8M768.50 182.02h-1.8M385.50 190.54h1.8M768.50 190.54h-1.8M385.50 199.06h1.8M768.50 199.06h-1.8M385.50 207.58h1.8M768.50 207.58h-1.8M382.90 216.10h4.6M768.50 216.10h-2M385.50 224.62h1.8M768.50 224.62h-1.8M385.50 233.14h1.8M768.50 233.14h-1.8M385.50 241.66h1.8M768.50 241.66h-1.8M385.50 250.18h1.8M768.50 250.18h-1.8M382.90 258.70h4.6M768.50 258.70h-2M385.50 267.22h1.8M768.50 267.22h-1.8M385.50 275.74h1.8M768.50 275.74h-1.8M385.50 284.26h1.8M768.50 284.26h-1.8M385.50 292.78h1.8M768.50 292.78h-1.8M382.90 301.30h4.6M768.50 301.30h-2M385.50 309.82h1.8M768.50 309.82h-1.8" stroke="#707070" stroke-width="0.8" fill="none"/>
<circle cx="539.5" cy="57" r="1.25" fill="#f01030"/>
<path d="M853.90 55.60L853.90 191.40" stroke="#c4c4c4" stroke-width="1" fill="none" stroke-dasharray="1 2"/>
<path d="M885.52 55.60L885.52 191.40" stroke="#c4c4c4" stroke-width="1" fill="none" stroke-dasharray="1 2"/>
<path d="M917.14 55.60L917.14 191.40" stroke="#c4c4c4" stroke-width="1" fill="none" stroke-dasharray="1 2"/>
<path d="M948.76 55.60L948.76 191.40" stroke="#c4c4c4" stroke-width="1" fill="none" stroke-dasharray="1 2"/>
<path d="M980.38 55.60L980.38 191.40" stroke="#c4c4c4" stroke-width="1" fill="none" stroke-dasharray="1 2"/>
<path d="M1012.00 55.60L1012.00 191.40" stroke="#c4c4c4" stroke-width="1" fill="none" stroke-dasharray="1 2"/>
<path d="M1043.62 55.60L1043.62 191.40" stroke="#c4c4c4" stroke-width="1" fill="none" stroke-dasharray="1 2"/>
<path d="M1075.24 55.60L1075.24 191.40" stroke="#c4c4c4" stroke-width="1" fill="none" stroke-dasharray="1 2"/>
<path d="M841.20 69.18L1085.00 69.18" stroke="#c4c4c4" stroke-width="1" fill="none" stroke-dasharray="1 2"/>
<path d="M841.20 82.76L1085.00 82.76" stroke="#c4c4c4" stroke-width="1" fill="none" stroke-dasharray="1 2"/>
<path d="M841.20 96.34L1085.00 96.34" stroke="#c4c4c4" stroke-width="1" fill="none" stroke-dasharray="1 2"/>
<path d="M841.20 109.92L1085.00 109.92" stroke="#c4c4c4" stroke-width="1" fill="none" stroke-dasharray="1 2"/>
<path d="M841.20 123.50L1085.00 123.50" stroke="#c4c4c4" stroke-width="1" fill="none" stroke-dasharray="1 2"/>
<path d="M841.20 137.08L1085.00 137.08" stroke="#c4c4c4" stroke-width="1" fill="none" stroke-dasharray="1 2"/>
<path d="M841.20 150.66L1085.00 150.66" stroke="#c4c4c4" stroke-width="1" fill="none" stroke-dasharray="1 2"/>
<path d="M841.20 164.24L1085.00 164.24" stroke="#c4c4c4" stroke-width="1" fill="none" stroke-dasharray="1 2"/>
<path d="M841.20 177.82L1085.00 177.82" stroke="#c4c4c4" stroke-width="1" fill="none" stroke-dasharray="1 2"/>
<path d="M841.2 55.6H1085M841.2 191.4H1085M841.2 55.6V191.4" stroke="#6e6e6e" stroke-width="1" fill="none"/>
<path d="M842.4000000000001 55.6V191.4" stroke="#222" stroke-width="1.1" stroke-dasharray="0.7 0.66" stroke-opacity="0.55"/>
<path d="M838.60 55.60h5.4M838.60 69.18h5.4M838.60 82.76h5.4M838.60 96.34h5.4M838.60 109.92h5.4M838.60 123.50h5.4M838.60 137.08h5.4M838.60 150.66h5.4M838.60 164.24h5.4M838.60 177.82h5.4M838.60 191.40h5.4M846.00 55.6v1.6M846.00 191.4v-1.6M853.90 55.6v2.6M853.90 191.4v2.6M853.90 191.4v-2M861.80 55.6v1.6M861.80 191.4v-1.6M869.71 55.6v1.6M869.71 191.4v-1.6M877.62 55.6v1.6M877.62 191.4v-1.6M885.52 55.6v2.6M885.52 191.4v2.6M885.52 191.4v-2M893.42 55.6v1.6M893.42 191.4v-1.6M901.33 55.6v1.6M901.33 191.4v-1.6M909.24 55.6v1.6M909.24 191.4v-1.6M917.14 55.6v2.6M917.14 191.4v2.6M917.14 191.4v-2M925.04 55.6v1.6M925.04 191.4v-1.6M932.95 55.6v1.6M932.95 191.4v-1.6M940.86 55.6v1.6M940.86 191.4v-1.6M948.76 55.6v2.6M948.76 191.4v2.6M948.76 191.4v-2M956.66 55.6v1.6M956.66 191.4v-1.6M964.57 55.6v1.6M964.57 191.4v-1.6M972.47 55.6v1.6M972.47 191.4v-1.6M980.38 55.6v2.6M980.38 191.4v2.6M980.38 191.4v-2M988.28 55.6v1.6M988.28 191.4v-1.6M996.19 55.6v1.6M996.19 191.4v-1.6M1004.10 55.6v1.6M1004.10 191.4v-1.6M1012.00 55.6v2.6M1012.00 191.4v2.6M1012.00 191.4v-2M1019.90 55.6v1.6M1019.90 191.4v-1.6M1027.81 55.6v1.6M1027.81 191.4v-1.6M1035.71 55.6v1.6M1035.71 191.4v-1.6M1043.62 55.6v2.6M1043.62 191.4v2.6M1043.62 191.4v-2M1051.53 55.6v1.6M1051.53 191.4v-1.6M1059.43 55.6v1.6M1059.43 191.4v-1.6M1067.34 55.6v1.6M1067.34 191.4v-1.6M1075.24 55.6v2.6M1075.24 191.4v2.6M1075.24 191.4v-2" stroke="#555" stroke-width="0.9" fill="none"/>
<rect x="338" y="378.0" width="5.4" height="5.6" fill="#fff" stroke="#b8b8c8" stroke-width="0.7"/>
<path d="M339.3 380.8h2.8M340.7 379.4v2.8" stroke="#3a50b0" stroke-width="0.8"/>
<rect x="345.40" y="379.30" width="4.40" height="3.00" fill="#a8c4e0"/>
<rect x="345.40" y="381.30" width="4.40" height="1.00" fill="#7898c0" fill-opacity="0.8"/>
<path d="M340.70 383.70L340.70 391.70" stroke="#c0c0c0" stroke-width="0.6" fill="none" stroke-dasharray="1 1"/>
<rect x="338" y="391.8" width="5.4" height="5.6" fill="#fff" stroke="#b8b8c8" stroke-width="0.7"/>
<path d="M339.3 394.6h2.8M340.7 393.2v2.8" stroke="#3a50b0" stroke-width="0.8"/>
<rect x="345.40" y="393.10" width="4.40" height="3.00" fill="#a8c4e0"/>
<rect x="345.40" y="395.10" width="4.40" height="1.00" fill="#7898c0" fill-opacity="0.8"/>
<path d="M340.70 397.50L340.70 405.50" stroke="#c0c0c0" stroke-width="0.6" fill="none" stroke-dasharray="1 1"/>
<rect x="338" y="405.6" width="5.4" height="5.6" fill="#fff" stroke="#b8b8c8" stroke-width="0.7"/>
<path d="M339.3 408.4h2.8M340.7 407.0v2.8" stroke="#3a50b0" stroke-width="0.8"/>
<rect x="345.40" y="406.90" width="4.40" height="3.00" fill="#a8c4e0"/>
<rect x="345.40" y="408.90" width="4.40" height="1.00" fill="#7898c0" fill-opacity="0.8"/>
<path d="M340.70 411.30L340.70 419.30" stroke="#c0c0c0" stroke-width="0.6" fill="none" stroke-dasharray="1 1"/>
<rect x="338" y="419.4" width="5.4" height="5.6" fill="#fff" stroke="#b8b8c8" stroke-width="0.7"/>
<path d="M339.3 422.2h2.8M340.7 420.8v2.8" stroke="#3a50b0" stroke-width="0.8"/>
<rect x="345.40" y="420.70" width="4.40" height="3.00" fill="#a8c4e0"/>
<rect x="345.40" y="422.70" width="4.40" height="1.00" fill="#7898c0" fill-opacity="0.8"/>
<path d="M340.70 425.10L340.70 433.10" stroke="#c0c0c0" stroke-width="0.6" fill="none" stroke-dasharray="1 1"/>
<rect x="338" y="433.2" width="5.4" height="5.6" fill="#fff" stroke="#b8b8c8" stroke-width="0.7"/>
<path d="M339.3 436.0h2.8M340.7 434.6v2.8" stroke="#3a50b0" stroke-width="0.8"/>
<rect x="345.40" y="434.50" width="4.40" height="3.00" fill="#a8c4e0"/>
<rect x="345.40" y="436.50" width="4.40" height="1.00" fill="#7898c0" fill-opacity="0.8"/>
<path d="M340.70 438.90L340.70 446.90" stroke="#c0c0c0" stroke-width="0.6" fill="none" stroke-dasharray="1 1"/>
<rect x="338" y="447.0" width="5.4" height="5.6" fill="#fff" stroke="#b8b8c8" stroke-width="0.7"/>
<path d="M339.3 449.8h2.8M340.7 448.4v2.8" stroke="#3a50b0" stroke-width="0.8"/>
<rect x="345.40" y="448.30" width="4.40" height="3.00" fill="#a8c4e0"/>
<rect x="345.40" y="450.30" width="4.40" height="1.00" fill="#7898c0" fill-opacity="0.8"/>
<path d="M35.2 15.7 L59.6 15.7 Q61.6 15.8 60.8 17.8 L58.6 22.9 L110.6 51.4 L108 55.2 L53.2 33.3 L50.2 36.6 Q48.8 38 47.8 36.2 L33.9 17.8 Q32.9 15.7 35.2 15.7Z" fill="#f04646"/>
<path d="M331.8 256l2.2-2v4z" fill="#b8b8c8"/><path d="M797.2 185l2.4-2v4z" fill="#b8b8c8" transform="rotate(180 798.4 185)"/>
<path d="M565.3 348.2l2 2.2h-4z" fill="#a8a8b8"/><path d="M719.2 356l2-2.2h-4z" fill="#a8b0c0"/><path d="M951.7 231.2l2-2.2h-4z" fill="#b0b8c8"/>
<path d="M450.2 364.8l1.2 2.2" stroke="#b0b0b0" stroke-width="0.7"/><path d="M843.8 238.8l1.2 2.2" stroke="#b0b0b0" stroke-width="0.7"/>
</svg>
<span class="t" id="wm_csdn" style="left:850.2px;top:427px;font-size:19.4px;line-height:24px;color:rgba(0,0,0,0.22);transform:scaleX(1.0118)">CSDN</span>
<span class="t" id="wm_at" style="left:913.6px;top:427px;font-size:19.4px;line-height:24px;color:rgba(0,0,0,0.22);transform:scaleX(0.8229)">@</span>
<svg width="1080" height="460" viewBox="0 0 1080 460">
<g opacity="0.38">
<ellipse cx="700.6" cy="408.8" rx="11.4" ry="9.5" fill="#000"/><path d="M691 414.5l3.2 10.2 6-6.4z" fill="#000"/>
<circle cx="697" cy="405.4" r="1.4" fill="#fff"/><circle cx="705.4" cy="405.4" r="1.4" fill="#fff"/>
<ellipse cx="718" cy="420.4" rx="12.6" ry="10.8" fill="#fff"/>
<ellipse cx="718" cy="420.4" rx="11.5" ry="9.7" fill="#000"/><path d="M721 428.6l5.4 3-1-5.4z" fill="#000"/>
<circle cx="714" cy="417.4" r="1.35" fill="#fff"/><circle cx="722.1" cy="417.4" r="1.35" fill="#fff"/>
</g>
<g fill="#000" fill-opacity="0.37" font-family="&quot;Liberation Sans&quot;, &quot;Noto Sans CJK SC&quot;, sans-serif" font-size="27"><text x="738.5 769.5 801.5" y="426.8">公众号</text><text x="840.8" y="426.8">·</text><text x="864.5 895 925.5 956 986.5 1017" y="426.8">美男子玩编程</text></g>
<g fill="#000" fill-opacity="0.22" font-family="&quot;Liberation Sans&quot;, &quot;Noto Sans CJK SC&quot;, sans-serif" font-size="20"><text x="929.5 951 972.5 994 1015.5 1036.5 1058" y="448">不脱发的程序猿</text></g>
<ellipse cx="15.6" cy="450.3" rx="14.6" ry="9.4" fill="#e01f26"/>
<ellipse cx="15.2" cy="446" rx="12.5" ry="4.6" fill="#f06a6a" fill-opacity="0.55"/>
<g fill="#111" font-family="&quot;Liberation Sans&quot;, &quot;Noto Sans CJK SC&quot;, sans-serif" font-size="16.2" font-weight="bold" font-style="italic"><text x="33.4 49.5 65.6" y="456.2">中文网</text></g>
</svg>
<span class="t" style="left:5.2px;top:443.6px;font-size:12.5px;line-height:14px;color:#fff;font-weight:bold;font-style:italic;letter-spacing:-0.4px">php</span>
</body></html>
